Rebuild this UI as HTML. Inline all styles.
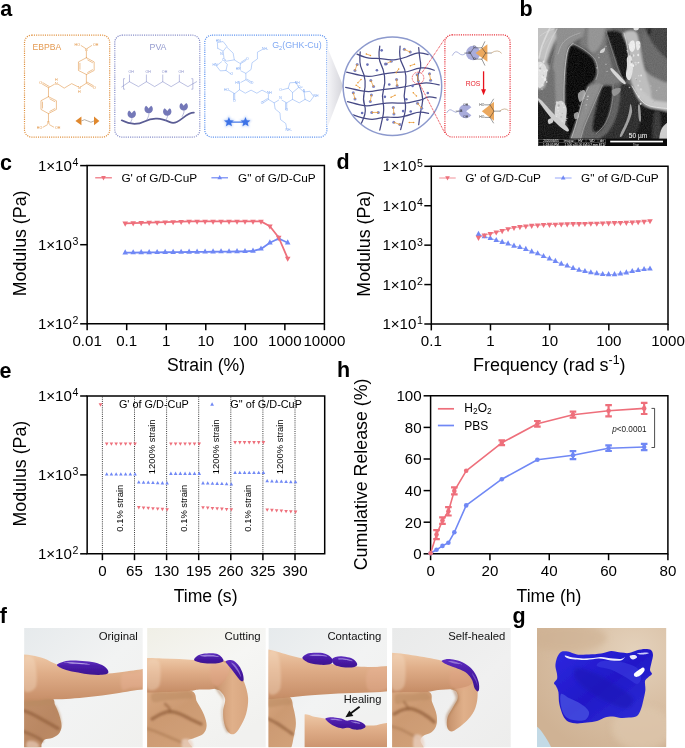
<!DOCTYPE html>
<html><head><meta charset="utf-8"><title>Figure</title>
<style>html,body{margin:0;padding:0;background:#fff}svg{display:block}text{font-family:"Liberation Sans", sans-serif}</style>
</head><body>
<svg width="685" height="748" viewBox="0 0 685 748">
<defs><linearGradient id="fun" x1="0" x2="1"><stop offset="0" stop-color="#f6f6f9"/><stop offset="1" stop-color="#d4d4da"/></linearGradient><clipPath id="cc"><circle cx="392.4" cy="86.2" r="48.6"/></clipPath><filter id="b03"><feGaussianBlur stdDeviation="0.35"/></filter><filter id="glow"><feGaussianBlur stdDeviation="0.9"/></filter><filter id="bl1" x="-10%" y="-10%" width="120%" height="120%"><feGaussianBlur stdDeviation="0.7"/></filter><filter id="bl2" x="-20%" y="-20%" width="140%" height="140%"><feGaussianBlur stdDeviation="1.6"/></filter><filter id="bl3" x="-30%" y="-30%" width="160%" height="160%"><feGaussianBlur stdDeviation="3"/></filter><filter id="bl05" x="-10%" y="-10%" width="120%" height="120%"><feGaussianBlur stdDeviation="0.4"/></filter><linearGradient id="skinH" x1="0" y1="0" x2="0" y2="1"><stop offset="0" stop-color="#EEC8A6"/><stop offset="0.4" stop-color="#DFAD88"/><stop offset="1" stop-color="#C58C66"/></linearGradient><linearGradient id="skinF" x1="0" y1="0" x2="1" y2="1"><stop offset="0" stop-color="#C4926B"/><stop offset="0.6" stop-color="#B98763"/><stop offset="1" stop-color="#C08E68"/></linearGradient><linearGradient id="skinF2" x1="0" y1="0" x2="0.6" y2="1"><stop offset="0" stop-color="#DCAC86"/><stop offset="0.5" stop-color="#CC9A72"/><stop offset="1" stop-color="#D2A27A"/></linearGradient><linearGradient id="skinV" x1="0" y1="0" x2="1" y2="0"><stop offset="0" stop-color="#C4906A"/><stop offset="0.55" stop-color="#E0B08A"/><stop offset="1" stop-color="#D8A680"/></linearGradient><linearGradient id="bgA" x1="0" y1="0" x2="1" y2="1"><stop offset="0" stop-color="#E6EAEC"/><stop offset="0.5" stop-color="#F2F3F3"/><stop offset="1" stop-color="#F0F0EE"/></linearGradient><linearGradient id="bgB" x1="0" y1="0" x2="0.6" y2="1"><stop offset="0" stop-color="#F0EFE6"/><stop offset="0.5" stop-color="#F6F6F4"/><stop offset="1" stop-color="#F1F1EF"/></linearGradient><linearGradient id="bgD" x1="0" y1="0" x2="1" y2="1"><stop offset="0" stop-color="#E9EAEA"/><stop offset="0.6" stop-color="#F0F0F0"/><stop offset="1" stop-color="#EDEDEC"/></linearGradient><linearGradient id="gel" x1="0" y1="0" x2="0" y2="1"><stop offset="0" stop-color="#6030C0"/><stop offset="0.4" stop-color="#4A1CA8"/><stop offset="1" stop-color="#3C1290"/></linearGradient><clipPath id="pc0"><rect x="24.1" y="628" width="118.6" height="119.3"/></clipPath><clipPath id="pc1"><rect x="147.1" y="628" width="118.6" height="119.3"/></clipPath><clipPath id="pc2"><rect x="268.4" y="628" width="118.6" height="119.3"/></clipPath><clipPath id="pc3"><rect x="392.1" y="628" width="118.6" height="119.3"/></clipPath><clipPath id="pcg"><rect x="537" y="628" width="129.2" height="119"/></clipPath><clipPath id="pcb"><rect x="538" y="28" width="129" height="118"/></clipPath><filter id="bl12" x="-10%" y="-10%" width="120%" height="120%"><feGaussianBlur stdDeviation="1.15"/></filter><filter id="grain" x="0" y="0" width="100%" height="100%"><feTurbulence type="fractalNoise" baseFrequency="0.9" numOctaves="2" seed="3"/><feColorMatrix type="matrix" values="0 0 0 0 0.5  0 0 0 0 0.5  0 0 0 0 0.5  1.6 0 0 0 -0.3"/></filter><clipPath id="pci"><rect x="304.6" y="714.2" width="82.4" height="33.1"/></clipPath><radialGradient id="gskin" cx="0.75" cy="0.2" r="0.9"><stop offset="0" stop-color="#E4D2BC"/><stop offset="0.5" stop-color="#D9C0A5"/><stop offset="1" stop-color="#CFB294"/></radialGradient><linearGradient id="ggel" x1="0" y1="0" x2="1" y2="1"><stop offset="0" stop-color="#2E28E0"/><stop offset="0.5" stop-color="#2018C8"/><stop offset="1" stop-color="#3030D8"/></linearGradient></defs>
<rect width="685" height="748" fill="#fff"/>
<text x="0.3" y="16.4" font-size="21.5" text-anchor="start" fill="#000" font-weight="bold">a</text><text x="519.6" y="16.3" font-size="21.5" text-anchor="start" fill="#000" font-weight="bold">b</text><text x="-0.1" y="170" font-size="21.5" text-anchor="start" fill="#000" font-weight="bold">c</text><text x="336.6" y="168.8" font-size="21.5" text-anchor="start" fill="#000" font-weight="bold">d</text><text x="-0.4" y="377.9" font-size="21.5" text-anchor="start" fill="#000" font-weight="bold">e</text><text x="337" y="377.3" font-size="21.5" text-anchor="start" fill="#000" font-weight="bold">h</text><text x="-0.2" y="623.1" font-size="21.5" text-anchor="start" fill="#000" font-weight="bold">f</text><text x="512.6" y="622.6" font-size="21.5" text-anchor="start" fill="#000" font-weight="bold">g</text><path d="M87.15 165.6H324.4V323.8H87.15Z" fill="none" stroke="#000" stroke-width="1.5"/><line x1="80.15" y1="165.6" x2="87.15" y2="165.6" stroke="#000" stroke-width="1.5"/><text x="78.4" y="170.6" font-size="15.1" text-anchor="end">1×10<tspan font-size="10.6" dy="-4.6" dx="0.6">4</tspan></text><line x1="80.15" y1="244.7" x2="87.15" y2="244.7" stroke="#000" stroke-width="1.5"/><text x="78.4" y="249.7" font-size="15.1" text-anchor="end">1×10<tspan font-size="10.6" dy="-4.6" dx="0.6">3</tspan></text><line x1="80.15" y1="323.8" x2="87.15" y2="323.8" stroke="#000" stroke-width="1.5"/><text x="78.4" y="328.8" font-size="15.1" text-anchor="end">1×10<tspan font-size="10.6" dy="-4.6" dx="0.6">2</tspan></text><line x1="87.15" y1="323.8" x2="87.15" y2="330.2" stroke="#000" stroke-width="1.5"/><text x="87.15" y="345.9" font-size="15.1" text-anchor="middle" fill="#000">0.01</text><line x1="126.69" y1="323.8" x2="126.69" y2="330.2" stroke="#000" stroke-width="1.5"/><text x="126.69" y="345.9" font-size="15.1" text-anchor="middle" fill="#000">0.1</text><line x1="166.23" y1="323.8" x2="166.23" y2="330.2" stroke="#000" stroke-width="1.5"/><text x="166.23" y="345.9" font-size="15.1" text-anchor="middle" fill="#000">1</text><line x1="205.78" y1="323.8" x2="205.78" y2="330.2" stroke="#000" stroke-width="1.5"/><text x="205.78" y="345.9" font-size="15.1" text-anchor="middle" fill="#000">10</text><line x1="245.32" y1="323.8" x2="245.32" y2="330.2" stroke="#000" stroke-width="1.5"/><text x="245.32" y="345.9" font-size="15.1" text-anchor="middle" fill="#000">100</text><line x1="284.86" y1="323.8" x2="284.86" y2="330.2" stroke="#000" stroke-width="1.5"/><text x="284.86" y="345.9" font-size="15.1" text-anchor="middle" fill="#000">1000</text><line x1="324.4" y1="323.8" x2="324.4" y2="330.2" stroke="#000" stroke-width="1.5"/><text x="324.4" y="345.9" font-size="15.1" text-anchor="middle" fill="#000">10000</text><text x="206" y="371.3" font-size="17.6" text-anchor="middle" fill="#000">Strain (%)</text><text transform="translate(26.3,243.4) rotate(-90)" font-size="17.8" text-anchor="middle" fill="#000">Modulus (Pa)</text><line x1="95.2" y1="177.8" x2="111.9" y2="177.8" stroke="#EE6F7B" stroke-width="1.2"/><polygon points="103.5,180.4 101.16,176.11 105.84,176.11" fill="#EE6F7B"/><text x="121.4" y="181.6" font-size="11.8" text-anchor="start" fill="#000">G' of G/D-CuP</text><line x1="211.4" y1="177.8" x2="228" y2="177.8" stroke="#7088F5" stroke-width="1.2"/><polygon points="219.7,175 217.36,179.29 222.04,179.29" fill="#7088F5"/><text x="238" y="181.6" font-size="11.8" text-anchor="start" fill="#000">G" of G/D-CuP</text><polyline points="125.2,252.7 133.19,252.61 141.18,252.52 149.16,252.44 157.15,252.35 165.14,252.26 173.13,252.18 181.12,252.09 189.11,252 197.09,251.91 205.08,251.82 213.07,251.74 221.06,251.65 229.05,251.56 237.04,251.48 245.02,251.39 253.01,251 261,248.9 269.9,242.7 278.7,238.5 287.7,242.7" fill="none" stroke="#7088F5" stroke-width="1.8" stroke-linejoin="round" stroke-linecap="round"/><polygon points="125.2,249.3 122.41,254.41 127.99,254.41" fill="#7088F5"/><polygon points="133.19,249.21 130.4,254.33 135.98,254.33" fill="#7088F5"/><polygon points="141.18,249.12 138.39,254.24 143.97,254.24" fill="#7088F5"/><polygon points="149.16,249.04 146.37,254.15 151.95,254.15" fill="#7088F5"/><polygon points="157.15,248.95 154.36,254.06 159.94,254.06" fill="#7088F5"/><polygon points="165.14,248.86 162.35,253.98 167.93,253.98" fill="#7088F5"/><polygon points="173.13,248.78 170.34,253.89 175.92,253.89" fill="#7088F5"/><polygon points="181.12,248.69 178.33,253.8 183.91,253.8" fill="#7088F5"/><polygon points="189.11,248.6 186.32,253.71 191.9,253.71" fill="#7088F5"/><polygon points="197.09,248.51 194.3,253.63 199.88,253.63" fill="#7088F5"/><polygon points="205.08,248.42 202.29,253.54 207.87,253.54" fill="#7088F5"/><polygon points="213.07,248.34 210.28,253.45 215.86,253.45" fill="#7088F5"/><polygon points="221.06,248.25 218.27,253.36 223.85,253.36" fill="#7088F5"/><polygon points="229.05,248.16 226.26,253.28 231.84,253.28" fill="#7088F5"/><polygon points="237.04,248.08 234.25,253.19 239.83,253.19" fill="#7088F5"/><polygon points="245.02,247.99 242.23,253.1 247.81,253.1" fill="#7088F5"/><polygon points="253.01,247.6 250.22,252.71 255.8,252.71" fill="#7088F5"/><polygon points="261,245.5 258.21,250.61 263.79,250.61" fill="#7088F5"/><polygon points="269.9,239.3 267.11,244.41 272.69,244.41" fill="#7088F5"/><polygon points="278.7,235.1 275.91,240.21 281.49,240.21" fill="#7088F5"/><polygon points="287.7,239.3 284.91,244.41 290.49,244.41" fill="#7088F5"/><polyline points="125.2,223.3 133.19,223.06 141.18,222.83 149.16,222.59 157.15,222.35 165.14,222.11 173.13,221.88 181.12,221.64 189.11,221.4 197.09,221.4 205.08,221.4 213.07,221.4 221.06,221.4 229.05,221.4 237.04,221.4 245.02,221.4 253.01,221.4 261,221.4 269.9,226.2 278.7,237.5 287.7,258.4" fill="none" stroke="#EE6F7B" stroke-width="1.8" stroke-linejoin="round" stroke-linecap="round"/><polygon points="125.2,226.7 122.41,221.59 127.99,221.59" fill="#EE6F7B"/><polygon points="133.19,226.46 130.4,221.35 135.98,221.35" fill="#EE6F7B"/><polygon points="141.18,226.23 138.39,221.11 143.97,221.11" fill="#EE6F7B"/><polygon points="149.16,225.99 146.37,220.87 151.95,220.87" fill="#EE6F7B"/><polygon points="157.15,225.75 154.36,220.64 159.94,220.64" fill="#EE6F7B"/><polygon points="165.14,225.51 162.35,220.4 167.93,220.4" fill="#EE6F7B"/><polygon points="173.13,225.28 170.34,220.16 175.92,220.16" fill="#EE6F7B"/><polygon points="181.12,225.04 178.33,219.92 183.91,219.92" fill="#EE6F7B"/><polygon points="189.11,224.8 186.32,219.69 191.9,219.69" fill="#EE6F7B"/><polygon points="197.09,224.8 194.3,219.69 199.88,219.69" fill="#EE6F7B"/><polygon points="205.08,224.8 202.29,219.69 207.87,219.69" fill="#EE6F7B"/><polygon points="213.07,224.8 210.28,219.69 215.86,219.69" fill="#EE6F7B"/><polygon points="221.06,224.8 218.27,219.69 223.85,219.69" fill="#EE6F7B"/><polygon points="229.05,224.8 226.26,219.69 231.84,219.69" fill="#EE6F7B"/><polygon points="237.04,224.8 234.25,219.69 239.83,219.69" fill="#EE6F7B"/><polygon points="245.02,224.8 242.23,219.69 247.81,219.69" fill="#EE6F7B"/><polygon points="253.01,224.8 250.22,219.69 255.8,219.69" fill="#EE6F7B"/><polygon points="261,224.8 258.21,219.69 263.79,219.69" fill="#EE6F7B"/><polygon points="269.9,229.6 267.11,224.49 272.69,224.49" fill="#EE6F7B"/><polygon points="278.7,240.9 275.91,235.79 281.49,235.79" fill="#EE6F7B"/><polygon points="287.7,261.8 284.91,256.69 290.49,256.69" fill="#EE6F7B"/><path d="M431.3 166.3H668.0V324.0H431.3Z" fill="none" stroke="#000" stroke-width="1.5"/><line x1="424.3" y1="166.3" x2="431.3" y2="166.3" stroke="#000" stroke-width="1.5"/><text x="422.9" y="171.3" font-size="15.1" text-anchor="end">1×10<tspan font-size="10.6" dy="-4.6" dx="0.6">5</tspan></text><line x1="424.3" y1="205.73" x2="431.3" y2="205.73" stroke="#000" stroke-width="1.5"/><text x="422.9" y="210.73" font-size="15.1" text-anchor="end">1×10<tspan font-size="10.6" dy="-4.6" dx="0.6">4</tspan></text><line x1="424.3" y1="245.15" x2="431.3" y2="245.15" stroke="#000" stroke-width="1.5"/><text x="422.9" y="250.15" font-size="15.1" text-anchor="end">1×10<tspan font-size="10.6" dy="-4.6" dx="0.6">3</tspan></text><line x1="424.3" y1="284.57" x2="431.3" y2="284.57" stroke="#000" stroke-width="1.5"/><text x="422.9" y="289.57" font-size="15.1" text-anchor="end">1×10<tspan font-size="10.6" dy="-4.6" dx="0.6">2</tspan></text><line x1="424.3" y1="324" x2="431.3" y2="324" stroke="#000" stroke-width="1.5"/><text x="422.9" y="329" font-size="15.1" text-anchor="end">1×10<tspan font-size="10.6" dy="-4.6" dx="0.6">1</tspan></text><line x1="431.3" y1="324" x2="431.3" y2="330.4" stroke="#000" stroke-width="1.5"/><text x="431.3" y="345.9" font-size="15.1" text-anchor="middle" fill="#000">0.1</text><line x1="490.48" y1="324" x2="490.48" y2="330.4" stroke="#000" stroke-width="1.5"/><text x="490.48" y="345.9" font-size="15.1" text-anchor="middle" fill="#000">1</text><line x1="549.65" y1="324" x2="549.65" y2="330.4" stroke="#000" stroke-width="1.5"/><text x="549.65" y="345.9" font-size="15.1" text-anchor="middle" fill="#000">10</text><line x1="608.83" y1="324" x2="608.83" y2="330.4" stroke="#000" stroke-width="1.5"/><text x="608.83" y="345.9" font-size="15.1" text-anchor="middle" fill="#000">100</text><line x1="668" y1="324" x2="668" y2="330.4" stroke="#000" stroke-width="1.5"/><text x="668" y="345.9" font-size="15.1" text-anchor="middle" fill="#000">1000</text><text x="549.3" y="370.7" font-size="17.95" text-anchor="middle">Frequency (rad s<tspan font-size="12.4" dy="-6.8">-1</tspan><tspan dy="6.8">)</tspan></text><text transform="translate(370.3,243.8) rotate(-90)" font-size="17.8" text-anchor="middle" fill="#000">Modulus (Pa)</text><line x1="439.2" y1="178" x2="455.7" y2="178" stroke="#F4A3AB" stroke-width="1.2"/><polygon points="447.5,180.6 445.16,176.31 449.84,176.31" fill="#EE6F7B"/><text x="465.2" y="181.8" font-size="11.8" text-anchor="start" fill="#000">G' of G/D-CuP</text><line x1="554.9" y1="178" x2="571.6" y2="178" stroke="#A9B6FA" stroke-width="1.2"/><polygon points="563.2,175.2 560.86,179.49 565.54,179.49" fill="#7088F5"/><text x="581" y="181.8" font-size="11.8" text-anchor="start" fill="#000">G" of G/D-CuP</text><polyline points="478.5,234.2 484.41,236.5 490.33,238.4 496.24,240.3 502.16,242.2 508.07,243.7 513.98,246 519.9,247.3 525.81,249.2 531.72,251.7 537.64,253.6 543.55,256.4 549.47,258.7 555.38,261.2 561.29,264 567.21,265.9 573.12,268.2 579.03,270.1 584.95,271.4 590.86,272.6 596.78,273.5 602.69,274.3 608.6,274.5 614.52,274.5 620.43,273.7 626.34,272.7 632.26,271.4 638.17,270.3 644.09,269.3 650,268.8" fill="none" stroke="#A9B6FA" stroke-width="1.2" stroke-linejoin="round" stroke-linecap="round"/><polygon points="478.5,230.8 475.71,235.91 481.29,235.91" fill="#7088F5"/><polygon points="484.41,233.1 481.62,238.21 487.2,238.21" fill="#7088F5"/><polygon points="490.33,235 487.54,240.11 493.12,240.11" fill="#7088F5"/><polygon points="496.24,236.9 493.45,242.01 499.03,242.01" fill="#7088F5"/><polygon points="502.16,238.8 499.37,243.91 504.95,243.91" fill="#7088F5"/><polygon points="508.07,240.3 505.28,245.41 510.86,245.41" fill="#7088F5"/><polygon points="513.98,242.6 511.19,247.71 516.77,247.71" fill="#7088F5"/><polygon points="519.9,243.9 517.11,249.01 522.69,249.01" fill="#7088F5"/><polygon points="525.81,245.8 523.02,250.91 528.6,250.91" fill="#7088F5"/><polygon points="531.72,248.3 528.93,253.41 534.51,253.41" fill="#7088F5"/><polygon points="537.64,250.2 534.85,255.31 540.43,255.31" fill="#7088F5"/><polygon points="543.55,253 540.76,258.12 546.34,258.12" fill="#7088F5"/><polygon points="549.47,255.3 546.68,260.42 552.26,260.42" fill="#7088F5"/><polygon points="555.38,257.8 552.59,262.92 558.17,262.92" fill="#7088F5"/><polygon points="561.29,260.6 558.5,265.71 564.08,265.71" fill="#7088F5"/><polygon points="567.21,262.5 564.42,267.62 570,267.62" fill="#7088F5"/><polygon points="573.12,264.8 570.33,269.92 575.91,269.92" fill="#7088F5"/><polygon points="579.03,266.7 576.24,271.81 581.82,271.81" fill="#7088F5"/><polygon points="584.95,268 582.16,273.12 587.74,273.12" fill="#7088F5"/><polygon points="590.86,269.2 588.07,274.31 593.65,274.31" fill="#7088F5"/><polygon points="596.78,270.1 593.99,275.21 599.57,275.21" fill="#7088F5"/><polygon points="602.69,270.9 599.9,276.01 605.48,276.01" fill="#7088F5"/><polygon points="608.6,271.1 605.81,276.21 611.39,276.21" fill="#7088F5"/><polygon points="614.52,271.1 611.73,276.21 617.31,276.21" fill="#7088F5"/><polygon points="620.43,270.3 617.64,275.42 623.22,275.42" fill="#7088F5"/><polygon points="626.34,269.3 623.55,274.42 629.13,274.42" fill="#7088F5"/><polygon points="632.26,268 629.47,273.12 635.05,273.12" fill="#7088F5"/><polygon points="638.17,266.9 635.38,272.01 640.96,272.01" fill="#7088F5"/><polygon points="644.09,265.9 641.3,271.01 646.88,271.01" fill="#7088F5"/><polygon points="650,265.4 647.21,270.51 652.79,270.51" fill="#7088F5"/><polyline points="478.5,237.5 484.41,235.2 490.33,233.7 496.24,232.1 502.16,230.8 508.07,228.9 513.98,227.6 519.9,226.8 525.81,226.1 531.72,225.5 537.64,225.1 543.55,224.7 549.47,224.5 555.38,224.4 561.29,224.2 567.21,224 573.12,223.8 579.03,223.8 584.95,223.6 590.86,223.4 596.78,223.4 602.69,223.2 608.6,223 614.52,222.8 620.43,222.6 626.34,222.5 632.26,222.3 638.17,221.9 644.09,221.5 650,220.9" fill="none" stroke="#F4A3AB" stroke-width="1.2" stroke-linejoin="round" stroke-linecap="round"/><polygon points="478.5,240.9 475.71,235.79 481.29,235.79" fill="#EE6F7B"/><polygon points="484.41,238.6 481.62,233.49 487.2,233.49" fill="#EE6F7B"/><polygon points="490.33,237.1 487.54,231.99 493.12,231.99" fill="#EE6F7B"/><polygon points="496.24,235.5 493.45,230.39 499.03,230.39" fill="#EE6F7B"/><polygon points="502.16,234.2 499.37,229.09 504.95,229.09" fill="#EE6F7B"/><polygon points="508.07,232.3 505.28,227.19 510.86,227.19" fill="#EE6F7B"/><polygon points="513.98,231 511.19,225.89 516.77,225.89" fill="#EE6F7B"/><polygon points="519.9,230.2 517.11,225.09 522.69,225.09" fill="#EE6F7B"/><polygon points="525.81,229.5 523.02,224.39 528.6,224.39" fill="#EE6F7B"/><polygon points="531.72,228.9 528.93,223.79 534.51,223.79" fill="#EE6F7B"/><polygon points="537.64,228.5 534.85,223.39 540.43,223.39" fill="#EE6F7B"/><polygon points="543.55,228.1 540.76,222.99 546.34,222.99" fill="#EE6F7B"/><polygon points="549.47,227.9 546.68,222.79 552.26,222.79" fill="#EE6F7B"/><polygon points="555.38,227.8 552.59,222.69 558.17,222.69" fill="#EE6F7B"/><polygon points="561.29,227.6 558.5,222.49 564.08,222.49" fill="#EE6F7B"/><polygon points="567.21,227.4 564.42,222.29 570,222.29" fill="#EE6F7B"/><polygon points="573.12,227.2 570.33,222.09 575.91,222.09" fill="#EE6F7B"/><polygon points="579.03,227.2 576.24,222.09 581.82,222.09" fill="#EE6F7B"/><polygon points="584.95,227 582.16,221.89 587.74,221.89" fill="#EE6F7B"/><polygon points="590.86,226.8 588.07,221.69 593.65,221.69" fill="#EE6F7B"/><polygon points="596.78,226.8 593.99,221.69 599.57,221.69" fill="#EE6F7B"/><polygon points="602.69,226.6 599.9,221.49 605.48,221.49" fill="#EE6F7B"/><polygon points="608.6,226.4 605.81,221.29 611.39,221.29" fill="#EE6F7B"/><polygon points="614.52,226.2 611.73,221.09 617.31,221.09" fill="#EE6F7B"/><polygon points="620.43,226 617.64,220.89 623.22,220.89" fill="#EE6F7B"/><polygon points="626.34,225.9 623.55,220.79 629.13,220.79" fill="#EE6F7B"/><polygon points="632.26,225.7 629.47,220.59 635.05,220.59" fill="#EE6F7B"/><polygon points="638.17,225.3 635.38,220.19 640.96,220.19" fill="#EE6F7B"/><polygon points="644.09,224.9 641.3,219.79 646.88,219.79" fill="#EE6F7B"/><polygon points="650,224.3 647.21,219.19 652.79,219.19" fill="#EE6F7B"/><path d="M87.15 396.0H324.7V553.8H87.15Z" fill="none" stroke="#000" stroke-width="1.5"/><line x1="80.15" y1="396" x2="87.15" y2="396" stroke="#000" stroke-width="1.5"/><text x="78.4" y="401" font-size="15.1" text-anchor="end">1×10<tspan font-size="10.6" dy="-4.6" dx="0.6">4</tspan></text><line x1="80.15" y1="474.9" x2="87.15" y2="474.9" stroke="#000" stroke-width="1.5"/><text x="78.4" y="479.9" font-size="15.1" text-anchor="end">1×10<tspan font-size="10.6" dy="-4.6" dx="0.6">3</tspan></text><line x1="80.15" y1="553.8" x2="87.15" y2="553.8" stroke="#000" stroke-width="1.5"/><text x="78.4" y="558.8" font-size="15.1" text-anchor="end">1×10<tspan font-size="10.6" dy="-4.6" dx="0.6">2</tspan></text><line x1="102.4" y1="553.8" x2="102.4" y2="560.2" stroke="#000" stroke-width="1.5"/><text x="102.4" y="576.3" font-size="15.1" text-anchor="middle" fill="#000">0</text><line x1="102.4" y1="396.6" x2="102.4" y2="553.2" stroke="#222" stroke-width="0.9" stroke-dasharray="1 1.15"/><line x1="134.5" y1="553.8" x2="134.5" y2="560.2" stroke="#000" stroke-width="1.5"/><text x="134.5" y="576.3" font-size="15.1" text-anchor="middle" fill="#000">65</text><line x1="134.5" y1="396.6" x2="134.5" y2="553.2" stroke="#222" stroke-width="0.9" stroke-dasharray="1 1.15"/><line x1="166.6" y1="553.8" x2="166.6" y2="560.2" stroke="#000" stroke-width="1.5"/><text x="166.6" y="576.3" font-size="15.1" text-anchor="middle" fill="#000">130</text><line x1="166.6" y1="396.6" x2="166.6" y2="553.2" stroke="#222" stroke-width="0.9" stroke-dasharray="1 1.15"/><line x1="198.7" y1="553.8" x2="198.7" y2="560.2" stroke="#000" stroke-width="1.5"/><text x="198.7" y="576.3" font-size="15.1" text-anchor="middle" fill="#000">195</text><line x1="198.7" y1="396.6" x2="198.7" y2="553.2" stroke="#222" stroke-width="0.9" stroke-dasharray="1 1.15"/><line x1="230.8" y1="553.8" x2="230.8" y2="560.2" stroke="#000" stroke-width="1.5"/><text x="230.8" y="576.3" font-size="15.1" text-anchor="middle" fill="#000">260</text><line x1="230.8" y1="396.6" x2="230.8" y2="553.2" stroke="#222" stroke-width="0.9" stroke-dasharray="1 1.15"/><line x1="262.9" y1="553.8" x2="262.9" y2="560.2" stroke="#000" stroke-width="1.5"/><text x="262.9" y="576.3" font-size="15.1" text-anchor="middle" fill="#000">325</text><line x1="262.9" y1="396.6" x2="262.9" y2="553.2" stroke="#222" stroke-width="0.9" stroke-dasharray="1 1.15"/><line x1="295" y1="553.8" x2="295" y2="560.2" stroke="#000" stroke-width="1.5"/><text x="295" y="576.3" font-size="15.1" text-anchor="middle" fill="#000">390</text><line x1="295" y1="396.6" x2="295" y2="553.2" stroke="#222" stroke-width="0.9" stroke-dasharray="1 1.15"/><text x="205.6" y="601.6" font-size="17.6" text-anchor="middle" fill="#000">Time (s)</text><text transform="translate(26.3,473.6) rotate(-90)" font-size="17.8" text-anchor="middle" fill="#000">Modulus (Pa)</text><polygon points="100.5,406.7 98.61,403.24 102.39,403.24" fill="#EE6F7B"/><text x="118.9" y="408.3" font-size="10.9" text-anchor="start" fill="#000">G' of G/D-CuP</text><polygon points="212.1,402.2 210.21,405.67 213.99,405.67" fill="#7088F5"/><text x="230.3" y="408.3" font-size="10.9" text-anchor="start" fill="#000">G" of G/D-CuP</text><polygon points="106.7,445.8 104.9,442.5 108.5,442.5" fill="#EE6F7B"/><polygon points="106.7,472.2 104.9,475.5 108.5,475.5" fill="#7088F5"/><polygon points="111.42,445.8 109.62,442.5 113.22,442.5" fill="#EE6F7B"/><polygon points="111.42,472.2 109.62,475.5 113.22,475.5" fill="#7088F5"/><polygon points="116.14,445.8 114.34,442.5 117.94,442.5" fill="#EE6F7B"/><polygon points="116.14,472.2 114.34,475.5 117.94,475.5" fill="#7088F5"/><polygon points="120.86,445.8 119.06,442.5 122.66,442.5" fill="#EE6F7B"/><polygon points="120.86,472.2 119.06,475.5 122.66,475.5" fill="#7088F5"/><polygon points="125.58,445.8 123.78,442.5 127.38,442.5" fill="#EE6F7B"/><polygon points="125.58,472.2 123.78,475.5 127.38,475.5" fill="#7088F5"/><polygon points="130.3,445.8 128.5,442.5 132.1,442.5" fill="#EE6F7B"/><polygon points="130.3,472.2 128.5,475.5 132.1,475.5" fill="#7088F5"/><polygon points="135.02,445.8 133.22,442.5 136.82,442.5" fill="#EE6F7B"/><polygon points="135.02,472.2 133.22,475.5 136.82,475.5" fill="#7088F5"/><polygon points="138.8,509.4 137,506.1 140.6,506.1" fill="#EE6F7B"/><polygon points="138.8,480.2 137,483.5 140.6,483.5" fill="#7088F5"/><polygon points="143.52,509.75 141.72,506.45 145.32,506.45" fill="#EE6F7B"/><polygon points="143.52,480.38 141.72,483.68 145.32,483.68" fill="#7088F5"/><polygon points="148.24,510.1 146.44,506.8 150.04,506.8" fill="#EE6F7B"/><polygon points="148.24,480.55 146.44,483.85 150.04,483.85" fill="#7088F5"/><polygon points="152.96,510.45 151.16,507.15 154.76,507.15" fill="#EE6F7B"/><polygon points="152.96,480.72 151.16,484.02 154.76,484.02" fill="#7088F5"/><polygon points="157.68,510.8 155.88,507.5 159.48,507.5" fill="#EE6F7B"/><polygon points="157.68,480.9 155.88,484.2 159.48,484.2" fill="#7088F5"/><polygon points="162.4,511.15 160.6,507.85 164.2,507.85" fill="#EE6F7B"/><polygon points="162.4,481.07 160.6,484.38 164.2,484.38" fill="#7088F5"/><polygon points="167.12,511.5 165.32,508.2 168.92,508.2" fill="#EE6F7B"/><polygon points="167.12,481.25 165.32,484.55 168.92,484.55" fill="#7088F5"/><polygon points="170.9,445.8 169.1,442.5 172.7,442.5" fill="#EE6F7B"/><polygon points="170.9,471.6 169.1,474.9 172.7,474.9" fill="#7088F5"/><polygon points="175.62,445.8 173.82,442.5 177.42,442.5" fill="#EE6F7B"/><polygon points="175.62,471.6 173.82,474.9 177.42,474.9" fill="#7088F5"/><polygon points="180.34,445.8 178.54,442.5 182.14,442.5" fill="#EE6F7B"/><polygon points="180.34,471.6 178.54,474.9 182.14,474.9" fill="#7088F5"/><polygon points="185.06,445.8 183.26,442.5 186.86,442.5" fill="#EE6F7B"/><polygon points="185.06,471.6 183.26,474.9 186.86,474.9" fill="#7088F5"/><polygon points="189.78,445.8 187.98,442.5 191.58,442.5" fill="#EE6F7B"/><polygon points="189.78,471.6 187.98,474.9 191.58,474.9" fill="#7088F5"/><polygon points="194.5,445.8 192.7,442.5 196.3,442.5" fill="#EE6F7B"/><polygon points="194.5,471.6 192.7,474.9 196.3,474.9" fill="#7088F5"/><polygon points="199.22,445.8 197.42,442.5 201.02,442.5" fill="#EE6F7B"/><polygon points="199.22,471.6 197.42,474.9 201.02,474.9" fill="#7088F5"/><polygon points="203,509.5 201.2,506.2 204.8,506.2" fill="#EE6F7B"/><polygon points="203,481.1 201.2,484.4 204.8,484.4" fill="#7088F5"/><polygon points="207.72,509.85 205.92,506.55 209.52,506.55" fill="#EE6F7B"/><polygon points="207.72,481.28 205.92,484.58 209.52,484.58" fill="#7088F5"/><polygon points="212.44,510.2 210.64,506.9 214.24,506.9" fill="#EE6F7B"/><polygon points="212.44,481.45 210.64,484.75 214.24,484.75" fill="#7088F5"/><polygon points="217.16,510.55 215.36,507.25 218.96,507.25" fill="#EE6F7B"/><polygon points="217.16,481.62 215.36,484.93 218.96,484.93" fill="#7088F5"/><polygon points="221.88,510.9 220.08,507.6 223.68,507.6" fill="#EE6F7B"/><polygon points="221.88,481.8 220.08,485.1 223.68,485.1" fill="#7088F5"/><polygon points="226.6,511.25 224.8,507.95 228.4,507.95" fill="#EE6F7B"/><polygon points="226.6,481.98 224.8,485.28 228.4,485.28" fill="#7088F5"/><polygon points="231.32,511.6 229.52,508.3 233.12,508.3" fill="#EE6F7B"/><polygon points="231.32,482.15 229.52,485.45 233.12,485.45" fill="#7088F5"/><polygon points="235.1,444.4 233.3,441.1 236.9,441.1" fill="#EE6F7B"/><polygon points="235.1,470.7 233.3,474 236.9,474" fill="#7088F5"/><polygon points="239.82,444.4 238.02,441.1 241.62,441.1" fill="#EE6F7B"/><polygon points="239.82,470.7 238.02,474 241.62,474" fill="#7088F5"/><polygon points="244.54,444.4 242.74,441.1 246.34,441.1" fill="#EE6F7B"/><polygon points="244.54,470.7 242.74,474 246.34,474" fill="#7088F5"/><polygon points="249.26,444.4 247.46,441.1 251.06,441.1" fill="#EE6F7B"/><polygon points="249.26,470.7 247.46,474 251.06,474" fill="#7088F5"/><polygon points="253.98,444.4 252.18,441.1 255.78,441.1" fill="#EE6F7B"/><polygon points="253.98,470.7 252.18,474 255.78,474" fill="#7088F5"/><polygon points="258.7,444.4 256.9,441.1 260.5,441.1" fill="#EE6F7B"/><polygon points="258.7,470.7 256.9,474 260.5,474" fill="#7088F5"/><polygon points="263.42,444.4 261.62,441.1 265.22,441.1" fill="#EE6F7B"/><polygon points="263.42,470.7 261.62,474 265.22,474" fill="#7088F5"/><polygon points="267.2,511.8 265.4,508.5 269,508.5" fill="#EE6F7B"/><polygon points="267.2,479 265.4,482.3 269,482.3" fill="#7088F5"/><polygon points="271.92,512.15 270.12,508.85 273.72,508.85" fill="#EE6F7B"/><polygon points="271.92,479.18 270.12,482.48 273.72,482.48" fill="#7088F5"/><polygon points="276.64,512.5 274.84,509.2 278.44,509.2" fill="#EE6F7B"/><polygon points="276.64,479.35 274.84,482.65 278.44,482.65" fill="#7088F5"/><polygon points="281.36,512.85 279.56,509.55 283.16,509.55" fill="#EE6F7B"/><polygon points="281.36,479.52 279.56,482.82 283.16,482.82" fill="#7088F5"/><polygon points="286.08,513.2 284.28,509.9 287.88,509.9" fill="#EE6F7B"/><polygon points="286.08,479.7 284.28,483 287.88,483" fill="#7088F5"/><polygon points="290.8,513.55 289,510.25 292.6,510.25" fill="#EE6F7B"/><polygon points="290.8,479.88 289,483.18 292.6,483.18" fill="#7088F5"/><polygon points="295.52,513.9 293.72,510.6 297.32,510.6" fill="#EE6F7B"/><polygon points="295.52,480.05 293.72,483.35 297.32,483.35" fill="#7088F5"/><text transform="translate(122.65,508.2) rotate(-90)" font-size="9.4" text-anchor="middle" fill="#000">0.1% strain</text><text transform="translate(154.75,446.8) rotate(-90)" font-size="9.4" text-anchor="middle" fill="#000">1200% strain</text><text transform="translate(186.85,508.2) rotate(-90)" font-size="9.4" text-anchor="middle" fill="#000">0.1% strain</text><text transform="translate(218.95,446.8) rotate(-90)" font-size="9.4" text-anchor="middle" fill="#000">1200% strain</text><text transform="translate(251.05,508.2) rotate(-90)" font-size="9.4" text-anchor="middle" fill="#000">0.1% strain</text><text transform="translate(283.15,446.8) rotate(-90)" font-size="9.4" text-anchor="middle" fill="#000">1200% strain</text><path d="M430.6 395.8H667.9V553.8H430.6Z" fill="none" stroke="#000" stroke-width="1.5"/><line x1="423.6" y1="395.8" x2="430.6" y2="395.8" stroke="#000" stroke-width="1.5"/><text x="421.6" y="401.1" font-size="15.1" text-anchor="end" fill="#000">100</text><line x1="423.6" y1="427.4" x2="430.6" y2="427.4" stroke="#000" stroke-width="1.5"/><text x="421.6" y="432.7" font-size="15.1" text-anchor="end" fill="#000">80</text><line x1="423.6" y1="459" x2="430.6" y2="459" stroke="#000" stroke-width="1.5"/><text x="421.6" y="464.3" font-size="15.1" text-anchor="end" fill="#000">60</text><line x1="423.6" y1="490.6" x2="430.6" y2="490.6" stroke="#000" stroke-width="1.5"/><text x="421.6" y="495.9" font-size="15.1" text-anchor="end" fill="#000">40</text><line x1="423.6" y1="522.2" x2="430.6" y2="522.2" stroke="#000" stroke-width="1.5"/><text x="421.6" y="527.5" font-size="15.1" text-anchor="end" fill="#000">20</text><line x1="423.6" y1="553.8" x2="430.6" y2="553.8" stroke="#000" stroke-width="1.5"/><text x="421.6" y="559.1" font-size="15.1" text-anchor="end" fill="#000">0</text><line x1="430.6" y1="553.8" x2="430.6" y2="560.2" stroke="#000" stroke-width="1.5"/><text x="430.6" y="576.3" font-size="15.1" text-anchor="middle" fill="#000">0</text><line x1="489.93" y1="553.8" x2="489.93" y2="560.2" stroke="#000" stroke-width="1.5"/><text x="489.93" y="576.3" font-size="15.1" text-anchor="middle" fill="#000">20</text><line x1="549.25" y1="553.8" x2="549.25" y2="560.2" stroke="#000" stroke-width="1.5"/><text x="549.25" y="576.3" font-size="15.1" text-anchor="middle" fill="#000">40</text><line x1="608.58" y1="553.8" x2="608.58" y2="560.2" stroke="#000" stroke-width="1.5"/><text x="608.58" y="576.3" font-size="15.1" text-anchor="middle" fill="#000">60</text><line x1="667.9" y1="553.8" x2="667.9" y2="560.2" stroke="#000" stroke-width="1.5"/><text x="667.9" y="576.3" font-size="15.1" text-anchor="middle" fill="#000">80</text><text x="549" y="601.6" font-size="17.6" text-anchor="middle" fill="#000">Time (h)</text><text transform="translate(367.4,474.4) rotate(-90)" font-size="17.8" text-anchor="middle" fill="#000">Cumulative Release (%)</text><line x1="437.9" y1="408.8" x2="454" y2="408.8" stroke="#EE6F7B" stroke-width="1.7"/><text x="464.3" y="411.9" font-size="12">H<tspan font-size="8.4" dy="2.4">2</tspan><tspan dy="-2.4">O</tspan><tspan font-size="8.4" dy="2.4">2</tspan></text><line x1="437.9" y1="425.5" x2="454" y2="425.5" stroke="#7088F5" stroke-width="1.7"/><text x="464.3" y="429.9" font-size="12" text-anchor="start" fill="#000">PBS</text><polyline points="430.6,553.3 436.53,549.8 442.47,545.9 448.4,542.8 454.33,532.3 466.19,505.4 501.79,479.2 537.38,459.8 572.98,455.2 608.58,448.2 644.17,447" fill="none" stroke="#7088F5" stroke-width="1.6" stroke-linejoin="round" stroke-linecap="round"/><circle cx="430.6" cy="553.3" r="2.3" fill="#7088F5"/><circle cx="436.53" cy="549.8" r="2.3" fill="#7088F5"/><circle cx="442.47" cy="545.9" r="2.3" fill="#7088F5"/><circle cx="448.4" cy="542.8" r="2.3" fill="#7088F5"/><circle cx="454.33" cy="532.3" r="2.3" fill="#7088F5"/><circle cx="466.19" cy="505.4" r="2.3" fill="#7088F5"/><circle cx="501.79" cy="479.2" r="2.3" fill="#7088F5"/><circle cx="537.38" cy="459.8" r="2.3" fill="#7088F5"/><circle cx="572.98" cy="455.2" r="2.3" fill="#7088F5"/><path d="M572.98 451.2V459.2M569.68 451.2h6.6M569.68 459.2h6.6" stroke="#7088F5" stroke-width="2.2" fill="none"/><circle cx="608.58" cy="448.2" r="2.3" fill="#7088F5"/><path d="M608.58 445.4V451M605.28 445.4h6.6M605.28 451h6.6" stroke="#7088F5" stroke-width="2.2" fill="none"/><circle cx="644.17" cy="447" r="2.3" fill="#7088F5"/><path d="M644.17 443.8V450.2M640.87 443.8h6.6M640.87 450.2h6.6" stroke="#7088F5" stroke-width="2.2" fill="none"/><polyline points="430.6,553.3 436.53,534.6 442.47,520.6 448.4,511.3 454.33,490.9 466.19,470.8 501.79,442.8 537.38,423.8 572.98,414.7 608.58,410.8 644.17,408.4" fill="none" stroke="#EE6F7B" stroke-width="1.6" stroke-linejoin="round" stroke-linecap="round"/><circle cx="430.6" cy="553.3" r="2.3" fill="#EE6F7B"/><circle cx="436.53" cy="534.6" r="2.3" fill="#EE6F7B"/><path d="M436.53 530.1V539.1M433.23 530.1h6.6M433.23 539.1h6.6" stroke="#EE6F7B" stroke-width="2.2" fill="none"/><circle cx="442.47" cy="520.6" r="2.3" fill="#EE6F7B"/><path d="M442.47 517.4V523.8M439.17 517.4h6.6M439.17 523.8h6.6" stroke="#EE6F7B" stroke-width="2.2" fill="none"/><circle cx="448.4" cy="511.3" r="2.3" fill="#EE6F7B"/><path d="M448.4 507.1V515.5M445.1 507.1h6.6M445.1 515.5h6.6" stroke="#EE6F7B" stroke-width="2.2" fill="none"/><circle cx="454.33" cy="490.9" r="2.3" fill="#EE6F7B"/><path d="M454.33 487.4V494.4M451.03 487.4h6.6M451.03 494.4h6.6" stroke="#EE6F7B" stroke-width="2.2" fill="none"/><circle cx="466.19" cy="470.8" r="2.3" fill="#EE6F7B"/><circle cx="501.79" cy="442.8" r="2.3" fill="#EE6F7B"/><path d="M501.79 440.4V445.2M498.49 440.4h6.6M498.49 445.2h6.6" stroke="#EE6F7B" stroke-width="2.2" fill="none"/><circle cx="537.38" cy="423.8" r="2.3" fill="#EE6F7B"/><path d="M537.38 421V426.6M534.09 421h6.6M534.09 426.6h6.6" stroke="#EE6F7B" stroke-width="2.2" fill="none"/><circle cx="572.98" cy="414.7" r="2.3" fill="#EE6F7B"/><path d="M572.98 411.7V417.7M569.68 411.7h6.6M569.68 417.7h6.6" stroke="#EE6F7B" stroke-width="2.2" fill="none"/><circle cx="608.58" cy="410.8" r="2.3" fill="#EE6F7B"/><path d="M608.58 405.2V416.4M605.28 405.2h6.6M605.28 416.4h6.6" stroke="#EE6F7B" stroke-width="2.2" fill="none"/><circle cx="644.17" cy="408.4" r="2.3" fill="#EE6F7B"/><path d="M644.17 402.8V414M640.87 402.8h6.6M640.87 414h6.6" stroke="#EE6F7B" stroke-width="2.2" fill="none"/><path d="M651.5 408.4H654.6V447.5H651.5" fill="none" stroke="#000" stroke-width="0.7"/><text x="612.2" y="431.8" font-size="8.2" fill="#222"><tspan font-style="italic">p</tspan>&lt;0.0001</text><rect x="24.5" y="35.2" width="85.2" height="101.9" rx="7.2" fill="none" stroke="#E0913F" stroke-width="1.2" stroke-dasharray="1.1 1.1"/><text x="32.6" y="49.9" font-size="8.6" text-anchor="start" fill="#E49A52">EBPBA</text><polyline points="86.38,57.72 94.17,61.91 94.17,70.46 86.38,74.5 78.44,70.46 78.44,61.91 86.38,57.72" fill="none" stroke="#E0913F" stroke-width="0.55" stroke-linejoin="round" stroke-linecap="round"/><polyline points="87.73,59.97 92.52,62.66" fill="none" stroke="#E0913F" stroke-width="0.55" stroke-linejoin="round" stroke-linecap="round"/><polyline points="92.52,69.71 87.73,72.4" fill="none" stroke="#E0913F" stroke-width="0.55" stroke-linejoin="round" stroke-linecap="round"/><polyline points="79.93,63.26 79.93,69.26" fill="none" stroke="#E0913F" stroke-width="0.55" stroke-linejoin="round" stroke-linecap="round"/><polyline points="86.38,57.72 86.38,50.98" fill="none" stroke="#E0913F" stroke-width="0.55" stroke-linejoin="round" stroke-linecap="round"/><polyline points="85.33,48.28 81.13,45.58" fill="none" stroke="#E0913F" stroke-width="0.55" stroke-linejoin="round" stroke-linecap="round"/><polyline points="87.43,48.28 91.62,45.58" fill="none" stroke="#E0913F" stroke-width="0.55" stroke-linejoin="round" stroke-linecap="round"/><polyline points="86.38,74.5 86.38,83.19 92.67,86.94" fill="none" stroke="#E0913F" stroke-width="0.55" stroke-linejoin="round" stroke-linecap="round"/><polyline points="87.13,82.14 93.42,85.74" fill="none" stroke="#E0913F" stroke-width="0.55" stroke-linejoin="round" stroke-linecap="round"/><polyline points="86.38,83.19 80.68,86.94" fill="none" stroke="#E0913F" stroke-width="0.55" stroke-linejoin="round" stroke-linecap="round"/><polyline points="77.69,86.64 71.69,83.64 64.2,88.14 58.21,84.24" fill="none" stroke="#E0913F" stroke-width="0.55" stroke-linejoin="round" stroke-linecap="round"/><polyline points="54.46,84.24 48.47,87.69 42.18,83.94" fill="none" stroke="#E0913F" stroke-width="0.55" stroke-linejoin="round" stroke-linecap="round"/><polyline points="49.22,86.49 42.92,82.74" fill="none" stroke="#E0913F" stroke-width="0.55" stroke-linejoin="round" stroke-linecap="round"/><polyline points="48.47,87.69 48.47,96.68" fill="none" stroke="#E0913F" stroke-width="0.55" stroke-linejoin="round" stroke-linecap="round"/><polyline points="48.47,96.68 56.41,100.72 56.41,109.41 48.47,113.61 40.98,109.41 40.98,100.72 48.47,96.68" fill="none" stroke="#E0913F" stroke-width="0.55" stroke-linejoin="round" stroke-linecap="round"/><polyline points="49.82,98.92 54.76,101.62" fill="none" stroke="#E0913F" stroke-width="0.55" stroke-linejoin="round" stroke-linecap="round"/><polyline points="54.76,108.66 49.82,111.36" fill="none" stroke="#E0913F" stroke-width="0.55" stroke-linejoin="round" stroke-linecap="round"/><polyline points="42.48,102.07 42.48,108.06" fill="none" stroke="#E0913F" stroke-width="0.55" stroke-linejoin="round" stroke-linecap="round"/><polyline points="48.47,113.61 48.47,121.7" fill="none" stroke="#E0913F" stroke-width="0.55" stroke-linejoin="round" stroke-linecap="round"/><polyline points="47.42,124.7 43.22,127.09" fill="none" stroke="#E0913F" stroke-width="0.55" stroke-linejoin="round" stroke-linecap="round"/><polyline points="49.52,124.7 53.71,127.09" fill="none" stroke="#E0913F" stroke-width="0.55" stroke-linejoin="round" stroke-linecap="round"/><text x="86.38" y="50.68" font-size="3.6" text-anchor="middle" fill="#E0913F">B</text><text x="77.24" y="45.58" font-size="3.6" text-anchor="middle" fill="#E0913F">HO</text><text x="95.67" y="45.58" font-size="3.6" text-anchor="middle" fill="#E0913F">OH</text><text x="94.47" y="88.74" font-size="3.6" text-anchor="middle" fill="#E0913F">O</text><text x="79.18" y="88.74" font-size="3.6" text-anchor="middle" fill="#E0913F">N</text><text x="79.18" y="92.63" font-size="3.6" text-anchor="middle" fill="#E0913F">H</text><text x="56.41" y="84.69" font-size="3.6" text-anchor="middle" fill="#E0913F">N</text><text x="56.41" y="80.94" font-size="3.6" text-anchor="middle" fill="#E0913F">H</text><text x="40.68" y="84.24" font-size="3.6" text-anchor="middle" fill="#E0913F">O</text><text x="48.47" y="124.4" font-size="3.6" text-anchor="middle" fill="#E0913F">B</text><text x="39.48" y="128.89" font-size="3.6" text-anchor="middle" fill="#E0913F">HO</text><text x="57.76" y="128.89" font-size="3.6" text-anchor="middle" fill="#E0913F">OH</text><polygon points="75.44,120.95 81.43,116.6 81.43,125.3" fill="#E0882E"/><polygon points="99.41,120.95 94.02,116.6 94.02,125.3" fill="#E0882E"/><path d="M81.43 120.95Q84.43 118.4 87.73 120.95Q91.02 123.5 94.02 120.95" fill="none" stroke="#8a7a6a" stroke-width="0.6"/><rect x="114.8" y="35.2" width="85" height="101.9" rx="7.2" fill="none" stroke="#858CC8" stroke-width="1.2" stroke-dasharray="1.1 1.1"/><text x="158" y="50.2" font-size="8.8" text-anchor="middle" fill="#959CCF">PVA</text><polyline points="121.69,86.94 129.48,81.69 138.47,86.64 146.41,81.69 154.65,86.64 162.74,81.69 171.13,86.64 179.37,81.69 187.91,86.64 196.6,81.69" fill="none" stroke="#858CC8" stroke-width="0.55" stroke-linejoin="round" stroke-linecap="round"/><polyline points="129.48,81.69 129.48,74.95" fill="none" stroke="#858CC8" stroke-width="0.55" stroke-linejoin="round" stroke-linecap="round"/><text x="131.28" y="73.15" font-size="3.6" text-anchor="middle" fill="#858CC8">OH</text><polyline points="146.41,81.69 146.41,74.95" fill="none" stroke="#858CC8" stroke-width="0.55" stroke-linejoin="round" stroke-linecap="round"/><text x="148.21" y="73.15" font-size="3.6" text-anchor="middle" fill="#858CC8">OH</text><polyline points="162.74,81.69 162.74,74.95" fill="none" stroke="#858CC8" stroke-width="0.55" stroke-linejoin="round" stroke-linecap="round"/><text x="164.54" y="73.15" font-size="3.6" text-anchor="middle" fill="#858CC8">OH</text><polyline points="179.37,81.69 179.37,74.95" fill="none" stroke="#858CC8" stroke-width="0.55" stroke-linejoin="round" stroke-linecap="round"/><text x="181.17" y="73.15" font-size="3.6" text-anchor="middle" fill="#858CC8">OH</text><polyline points="124.68,78.7 123.49,78.7 123.49,89.18 124.68,89.18" fill="none" stroke="#858CC8" stroke-width="0.55" stroke-linejoin="round" stroke-linecap="round"/><polyline points="191.66,78.7 192.86,78.7 192.86,89.18 191.66,89.18" fill="none" stroke="#858CC8" stroke-width="0.55" stroke-linejoin="round" stroke-linecap="round"/><path d="M121.69 120.35C127.98 123.65 135.47 125.89 144.46 121.4S160.94 118.4 169.93 122.15S184.92 112.41 193.91 112.71" fill="none" stroke="#5A5C94" stroke-width="1.7" stroke-linecap="round"/><path d="M131.73 116.91Q132.93 118.55 130.23 123.2" fill="none" stroke="#7478B8" stroke-width="0.5"/><path d="M129.14 110.6A4.2 4.2 0 1 0 134.31 110.6Q132.78 111.6 131.73 113.28Q130.68 111.6 129.14 110.6Z" fill="#7478B8"/><path d="M148.66 112.11Q149.86 114.51 146.71 119.9" fill="none" stroke="#7478B8" stroke-width="0.5"/><path d="M146.07 105.8A4.2 4.2 0 1 0 151.24 105.8Q149.71 106.8 148.66 108.48Q147.61 106.8 146.07 105.8Z" fill="#7478B8"/><path d="M167.24 114.66Q168.44 116.31 165.14 120.95" fill="none" stroke="#7478B8" stroke-width="0.5"/><path d="M164.65 108.35A4.2 4.2 0 1 0 169.82 108.35Q168.29 109.35 167.24 111.03Q166.19 109.35 164.65 108.35Z" fill="#7478B8"/><path d="M183.72 109.42Q184.92 111.66 181.92 116.9" fill="none" stroke="#7478B8" stroke-width="0.5"/><path d="M181.13 103.11A4.2 4.2 0 1 0 186.3 103.11Q184.77 104.11 183.72 105.79Q182.67 104.11 181.13 103.11Z" fill="#7478B8"/><rect x="204.8" y="35.2" width="122.1" height="101.9" rx="7.2" fill="none" stroke="#5E93F0" stroke-width="1.2" stroke-dasharray="1.1 1.1"/><text x="272.2" y="48.3" font-size="8.9" fill="#7FA8F3">G<tspan font-size="5.6" dy="1.8">2</tspan><tspan dy="-1.8">(GHK-Cu)</tspan></text><polyline points="217.73,48.31 217.34,42.53 223.13,41.56 226.98,46.38 223.13,51.2 217.73,48.31" fill="none" stroke="#7BA6F3" stroke-width="0.5" stroke-linejoin="round" stroke-linecap="round"/><polyline points="226.98,47.34 233.15,53.13 234.3,59.87 240.47,63.73 245.87,60.45" fill="none" stroke="#7BA6F3" stroke-width="0.5" stroke-linejoin="round" stroke-linecap="round"/><polyline points="240.86,62.38 245.87,59.1" fill="none" stroke="#7BA6F3" stroke-width="0.5" stroke-linejoin="round" stroke-linecap="round"/><polyline points="234.3,59.87 226.02,61.22" fill="none" stroke="#7BA6F3" stroke-width="0.5" stroke-linejoin="round" stroke-linecap="round"/><polyline points="223.13,51.58 224.09,58.91" fill="none" stroke="#7BA6F3" stroke-width="0.5" stroke-linejoin="round" stroke-linecap="round"/><polyline points="224.67,61.8 227.37,64.3 226.02,70.47 220.24,70.86 216.38,65.85 221.58,61.8" fill="none" stroke="#7BA6F3" stroke-width="0.5" stroke-linejoin="round" stroke-linecap="round"/><polyline points="226.02,70.47 230.83,73.94" fill="none" stroke="#7BA6F3" stroke-width="0.5" stroke-linejoin="round" stroke-linecap="round"/><polyline points="240.47,63.73 239.89,68.54" fill="none" stroke="#7BA6F3" stroke-width="0.5" stroke-linejoin="round" stroke-linecap="round"/><polyline points="240.86,70.86 245.87,73.36 245.87,79.72 250.49,83" fill="none" stroke="#7BA6F3" stroke-width="0.5" stroke-linejoin="round" stroke-linecap="round"/><polyline points="247.02,79.14 251.65,82.03" fill="none" stroke="#7BA6F3" stroke-width="0.5" stroke-linejoin="round" stroke-linecap="round"/><polyline points="245.87,73.36 251.07,69.51 252.03,62.76 257.43,58.91 257.43,52.16 262.05,49.66" fill="none" stroke="#7BA6F3" stroke-width="0.5" stroke-linejoin="round" stroke-linecap="round"/><polyline points="245.87,79.72 240.86,82.42" fill="none" stroke="#7BA6F3" stroke-width="0.5" stroke-linejoin="round" stroke-linecap="round"/><polyline points="239.51,84.35 239.51,89.74 234.69,93.6 234.69,99.76" fill="none" stroke="#7BA6F3" stroke-width="0.5" stroke-linejoin="round" stroke-linecap="round"/><polyline points="233.53,93.6 233.53,99.38" fill="none" stroke="#7BA6F3" stroke-width="0.5" stroke-linejoin="round" stroke-linecap="round"/><polyline points="234.69,93.6 229.29,90.51" fill="none" stroke="#7BA6F3" stroke-width="0.5" stroke-linejoin="round" stroke-linecap="round"/><polyline points="239.51,89.74 245.29,93.21 251.07,90.13 256.85,93.21 262.05,90.13 266.49,92.44" fill="none" stroke="#7BA6F3" stroke-width="0.5" stroke-linejoin="round" stroke-linecap="round"/><polyline points="268.41,94.56 268.41,99.38 263.21,102.85" fill="none" stroke="#7BA6F3" stroke-width="0.5" stroke-linejoin="round" stroke-linecap="round"/><polyline points="267.45,98.61 262.44,101.69" fill="none" stroke="#7BA6F3" stroke-width="0.5" stroke-linejoin="round" stroke-linecap="round"/><polyline points="268.41,99.38 274.2,102.85 278.63,100.15" fill="none" stroke="#7BA6F3" stroke-width="0.5" stroke-linejoin="round" stroke-linecap="round"/><polyline points="281.9,100.15 286.72,102.85 286.72,109.4" fill="none" stroke="#7BA6F3" stroke-width="0.5" stroke-linejoin="round" stroke-linecap="round"/><polyline points="285.57,102.85 285.57,109.4" fill="none" stroke="#7BA6F3" stroke-width="0.5" stroke-linejoin="round" stroke-linecap="round"/><polyline points="286.72,102.85 292.5,99.38 299.25,102.85 305.03,99.38" fill="none" stroke="#7BA6F3" stroke-width="0.5" stroke-linejoin="round" stroke-linecap="round"/><polyline points="274.2,102.85 275.16,109.01 279.98,112.87 280.56,119.61 285.76,123.47 286.72,128.67" fill="none" stroke="#7BA6F3" stroke-width="0.5" stroke-linejoin="round" stroke-linecap="round"/><polyline points="292.5,99.38 292.5,92.63 288.26,88.2 282.48,89.74" fill="none" stroke="#7BA6F3" stroke-width="0.5" stroke-linejoin="round" stroke-linecap="round"/><polyline points="288.26,88.2 289.81,82.8 295.97,82.42 298.67,87.43 292.5,92.63" fill="none" stroke="#7BA6F3" stroke-width="0.5" stroke-linejoin="round" stroke-linecap="round"/><polyline points="299.25,87.81 304.07,92.05 305.03,99.38" fill="none" stroke="#7BA6F3" stroke-width="0.5" stroke-linejoin="round" stroke-linecap="round"/><polyline points="304.07,92.05 309.85,91.28 313.7,96.49 309.85,101.69 305.03,99.38" fill="none" stroke="#7BA6F3" stroke-width="0.5" stroke-linejoin="round" stroke-linecap="round"/><text x="218.31" y="41.95" font-size="3.4" text-anchor="middle" fill="#7BA6F3">HN</text><text x="221.58" y="55.44" font-size="3.4" text-anchor="middle" fill="#7BA6F3">N</text><text x="224.09" y="60.83" font-size="3.4" text-anchor="middle" fill="#7BA6F3">Cu</text><text x="215.03" y="65.85" font-size="3.4" text-anchor="middle" fill="#7BA6F3">HN</text><text x="231.8" y="74.71" font-size="3.4" text-anchor="middle" fill="#7BA6F3">O</text><text x="247.22" y="59.68" font-size="3.4" text-anchor="middle" fill="#7BA6F3">O</text><text x="238.16" y="70.47" font-size="3.4" text-anchor="middle" fill="#7BA6F3">HN</text><text x="252.03" y="83.96" font-size="3.4" text-anchor="middle" fill="#7BA6F3">O</text><text x="265.14" y="49.85" font-size="3.4" text-anchor="middle" fill="#7BA6F3">NH₂</text><text x="237.77" y="83.96" font-size="3.4" text-anchor="middle" fill="#7BA6F3">HN</text><text x="234.3" y="101.69" font-size="3.4" text-anchor="middle" fill="#7BA6F3">O</text><text x="226.59" y="90.51" font-size="3.4" text-anchor="middle" fill="#7BA6F3">HO</text><text x="269.38" y="93.6" font-size="3.4" text-anchor="middle" fill="#7BA6F3">NH</text><text x="262.05" y="104" font-size="3.4" text-anchor="middle" fill="#7BA6F3">O</text><text x="280.36" y="99.38" font-size="3.4" text-anchor="middle" fill="#7BA6F3">N</text><text x="286.72" y="111.33" font-size="3.4" text-anchor="middle" fill="#7BA6F3">O</text><text x="280.56" y="90.51" font-size="3.4" text-anchor="middle" fill="#7BA6F3">O</text><text x="297.32" y="83.57" font-size="3.4" text-anchor="middle" fill="#7BA6F3">NH</text><text x="300.21" y="87.81" font-size="3.4" text-anchor="middle" fill="#7BA6F3">Cu</text><text x="304.07" y="92.05" font-size="3.4" text-anchor="middle" fill="#7BA6F3">N</text><text x="316.01" y="97.45" font-size="3.4" text-anchor="middle" fill="#7BA6F3">NH</text><text x="288.65" y="131.18" font-size="3.4" text-anchor="middle" fill="#7BA6F3">NH₂</text><g filter="url(#glow)" opacity="0.55"><polygon points="228.91,115.62 230.79,119.53 235.09,120.11 231.95,123.11 232.73,127.38 228.91,125.32 225.09,127.38 225.86,123.11 222.73,120.11 227.03,119.53" fill="#8FB2F6"/><polygon points="245.48,115.62 247.36,119.53 251.66,120.11 248.52,123.11 249.3,127.38 245.48,125.32 241.66,127.38 242.44,123.11 239.3,120.11 243.6,119.53" fill="#8FB2F6"/></g><line x1="228.91" y1="122.12" x2="245.48" y2="122.12" stroke="#3E73E6" stroke-width="1.2"/><polygon points="228.91,116.92 230.26,120.26 233.85,120.51 231.09,122.83 231.96,126.32 228.91,124.42 225.85,126.32 226.72,122.83 223.96,120.51 227.56,120.26" fill="#3E73E6"/><polygon points="245.48,116.92 246.83,120.26 250.43,120.51 247.67,122.83 248.54,126.32 245.48,124.42 242.42,126.32 243.29,122.83 240.54,120.51 244.13,120.26" fill="#3E73E6"/><polygon points="327.2,47 327.2,128 343.2,86" fill="url(#fun)"/><circle cx="392.4" cy="86.2" r="49.3" fill="#fff" stroke="#8C99CD" stroke-width="1.45"/><g clip-path="url(#cc)"><path d="M357 54.16Q367.44 58.9 373.13 58.43Q378.82 57.95 384.52 59.09Q390.21 60.23 395.9 59.56Q401.59 58.9 406.34 57Q411.08 55.1 414.88 53.68Q418.67 52.26 423.42 53.4L428.16 54.54" fill="none" stroke="#474A86" stroke-width="1.25" stroke-linecap="round"/><path d="M346.57 72.18Q357.95 75.03 363.64 75.98Q369.34 76.93 375.98 75.5Q382.62 74.08 389.26 73.13Q395.9 72.18 401.59 72.18Q407.29 72.18 412.03 70.28Q416.77 68.39 421.52 67.91Q426.26 67.44 430.25 68.86L434.23 70.28" fill="none" stroke="#474A86" stroke-width="1.25" stroke-linecap="round"/><path d="M345.62 87.36Q357.95 90.21 363.64 91.16Q369.34 92.11 375.98 90.68Q382.62 89.26 389.26 88.79Q395.9 88.31 401.59 87.36Q407.29 86.41 412.98 84.99Q418.67 83.57 423.42 83.09Q428.16 82.62 433.66 83.76L439.17 84.9" fill="none" stroke="#474A86" stroke-width="1.25" stroke-linecap="round"/><path d="M347.51 101.59Q357.95 104.44 362.69 105.39Q367.44 106.34 374.08 104.91Q380.72 103.49 386.41 103.02Q392.11 102.54 397.8 103.02Q403.49 103.49 409.18 102.54Q414.88 101.59 419.15 100.46Q423.42 99.32 425.79 97.8Q428.16 96.28 432.14 97.04L436.13 97.8" fill="none" stroke="#474A86" stroke-width="1.25" stroke-linecap="round"/><path d="M353.21 114.88Q363.64 118.67 369.34 119.15Q375.03 119.62 379.77 118.2Q384.52 116.77 390.21 117.25Q395.9 117.72 401.59 116.77Q407.29 115.83 412.98 113.64Q418.67 111.46 423.61 112.41L428.54 113.36" fill="none" stroke="#474A86" stroke-width="1.25" stroke-linecap="round"/><path d="M360.23 51.88Q358.9 63.64 361.75 69.34Q364.59 75.03 365.07 80.72Q365.54 86.41 364.12 93.06Q362.69 99.7 364.59 105.39Q366.49 111.08 363.64 117.91L360.8 124.74" fill="none" stroke="#474A86" stroke-width="1.25" stroke-linecap="round"/><path d="M379.77 46.19Q377.87 57.95 380.72 63.64Q383.57 69.34 384.52 75.98Q385.46 82.62 383.57 89.26Q381.67 95.9 383.09 102.54Q384.52 109.18 382.62 117.72Q380.72 126.26 380.25 128.16L379.77 130.06" fill="none" stroke="#474A86" stroke-width="1.25" stroke-linecap="round"/><path d="M400.08 46.19Q398.75 57.95 402.07 63.64Q405.39 69.34 405.86 75.98Q406.34 82.62 404.91 89.26Q403.49 95.9 404.91 101.59Q406.34 107.29 404.44 114.88Q402.54 122.47 401.59 126.07L400.65 129.68" fill="none" stroke="#474A86" stroke-width="1.25" stroke-linecap="round"/><path d="M418.67 47.51Q419.62 57.95 420.57 62.69Q421.52 67.44 419.15 72.18Q416.77 76.93 418.67 82.62Q420.57 88.31 421.99 94Q423.42 99.7 421.99 105.39Q420.57 111.08 419.62 117.91L418.67 124.74" fill="none" stroke="#474A86" stroke-width="1.25" stroke-linecap="round"/><line x1="366.32" y1="53.97" x2="370.45" y2="55.48" stroke="#E8962E" stroke-width="0.7"/><circle cx="366.32" cy="53.97" r="0.75" fill="#E8962E"/><circle cx="370.45" cy="55.48" r="0.75" fill="#E8962E"/><circle cx="404.34" cy="49.37" r="1.5" fill="#8088C8"/><circle cx="410.23" cy="52.11" r="1.5" fill="#8088C8"/><line x1="404.93" y1="49.64" x2="409.64" y2="51.84" stroke="#E8962E" stroke-width="0.7"/><circle cx="404.93" cy="49.64" r="0.75" fill="#E8962E"/><circle cx="409.64" cy="51.84" r="0.75" fill="#E8962E"/><circle cx="385.37" cy="64.07" r="1.5" fill="#8088C8"/><circle cx="391.26" cy="61.32" r="1.5" fill="#8088C8"/><line x1="385.95" y1="63.79" x2="390.67" y2="61.6" stroke="#E8962E" stroke-width="0.7"/><circle cx="385.95" cy="63.79" r="0.75" fill="#E8962E"/><circle cx="390.67" cy="61.6" r="0.75" fill="#E8962E"/><line x1="410.34" y1="65.72" x2="414.48" y2="64.22" stroke="#E8962E" stroke-width="0.7"/><circle cx="410.34" cy="65.72" r="0.75" fill="#E8962E"/><circle cx="414.48" cy="64.22" r="0.75" fill="#E8962E"/><circle cx="354.94" cy="70.49" r="1.5" fill="#8088C8"/><circle cx="357.16" cy="64.38" r="1.5" fill="#8088C8"/><line x1="355.16" y1="69.88" x2="356.94" y2="65" stroke="#E8962E" stroke-width="0.7"/><circle cx="355.16" cy="69.88" r="0.75" fill="#E8962E"/><circle cx="356.94" cy="65" r="0.75" fill="#E8962E"/><line x1="396.16" y1="72.66" x2="398.68" y2="69.05" stroke="#E8962E" stroke-width="0.7"/><circle cx="396.16" cy="72.66" r="0.75" fill="#E8962E"/><circle cx="398.68" cy="69.05" r="0.75" fill="#E8962E"/><line x1="357.91" y1="82.66" x2="361.02" y2="79.54" stroke="#E8962E" stroke-width="0.7"/><circle cx="357.91" cy="82.66" r="0.75" fill="#E8962E"/><circle cx="361.02" cy="79.54" r="0.75" fill="#E8962E"/><line x1="356.15" y1="85.15" x2="359.75" y2="87.68" stroke="#E8962E" stroke-width="0.7"/><circle cx="356.15" cy="85.15" r="0.75" fill="#E8962E"/><circle cx="359.75" cy="87.68" r="0.75" fill="#E8962E"/><circle cx="370.81" cy="80.62" r="1.5" fill="#8088C8"/><circle cx="373.56" cy="86.51" r="1.5" fill="#8088C8"/><line x1="371.08" y1="81.21" x2="373.28" y2="85.92" stroke="#E8962E" stroke-width="0.7"/><circle cx="371.08" cy="81.21" r="0.75" fill="#E8962E"/><circle cx="373.28" cy="85.92" r="0.75" fill="#E8962E"/><circle cx="396.57" cy="79.38" r="1.5" fill="#8088C8"/><circle cx="397.13" cy="85.86" r="1.5" fill="#8088C8"/><line x1="396.62" y1="80.03" x2="397.08" y2="85.21" stroke="#E8962E" stroke-width="0.7"/><circle cx="396.62" cy="80.03" r="0.75" fill="#E8962E"/><circle cx="397.08" cy="85.21" r="0.75" fill="#E8962E"/><circle cx="417.16" cy="74.67" r="1.5" fill="#8088C8"/><circle cx="418.29" cy="81.08" r="1.5" fill="#8088C8"/><line x1="417.27" y1="75.31" x2="418.17" y2="80.44" stroke="#E8962E" stroke-width="0.7"/><circle cx="417.27" cy="75.31" r="0.75" fill="#E8962E"/><circle cx="418.17" cy="80.44" r="0.75" fill="#E8962E"/><circle cx="429.49" cy="73.73" r="1.5" fill="#8088C8"/><circle cx="430.62" cy="80.13" r="1.5" fill="#8088C8"/><line x1="429.61" y1="74.37" x2="430.51" y2="79.49" stroke="#E8962E" stroke-width="0.7"/><circle cx="429.61" cy="74.37" r="0.75" fill="#E8962E"/><circle cx="430.51" cy="79.49" r="0.75" fill="#E8962E"/><circle cx="353.31" cy="92.76" r="1.5" fill="#8088C8"/><circle cx="355" cy="99.04" r="1.5" fill="#8088C8"/><line x1="353.48" y1="93.39" x2="354.83" y2="98.41" stroke="#E8962E" stroke-width="0.7"/><circle cx="353.48" cy="93.39" r="0.75" fill="#E8962E"/><circle cx="354.83" cy="98.41" r="0.75" fill="#E8962E"/><circle cx="370.29" cy="101.38" r="1.5" fill="#8088C8"/><circle cx="371.42" cy="94.98" r="1.5" fill="#8088C8"/><line x1="370.4" y1="100.74" x2="371.31" y2="95.62" stroke="#E8962E" stroke-width="0.7"/><circle cx="370.4" cy="100.74" r="0.75" fill="#E8962E"/><circle cx="371.31" cy="95.62" r="0.75" fill="#E8962E"/><line x1="391.06" y1="97.21" x2="395.05" y2="95.35" stroke="#E8962E" stroke-width="0.7"/><circle cx="391.06" cy="97.21" r="0.75" fill="#E8962E"/><circle cx="395.05" cy="95.35" r="0.75" fill="#E8962E"/><line x1="413.32" y1="92.83" x2="416.43" y2="95.94" stroke="#E8962E" stroke-width="0.7"/><circle cx="413.32" cy="92.83" r="0.75" fill="#E8962E"/><circle cx="416.43" cy="95.94" r="0.75" fill="#E8962E"/><circle cx="417.53" cy="103.28" r="1.5" fill="#8088C8"/><circle cx="421.71" cy="108.26" r="1.5" fill="#8088C8"/><line x1="417.95" y1="103.78" x2="421.29" y2="107.76" stroke="#E8962E" stroke-width="0.7"/><circle cx="417.95" cy="103.78" r="0.75" fill="#E8962E"/><circle cx="421.29" cy="107.76" r="0.75" fill="#E8962E"/><circle cx="371.78" cy="112.41" r="1.5" fill="#8088C8"/><circle cx="378.28" cy="112.41" r="1.5" fill="#8088C8"/><line x1="372.43" y1="112.41" x2="377.63" y2="112.41" stroke="#E8962E" stroke-width="0.7"/><circle cx="372.43" cy="112.41" r="0.75" fill="#E8962E"/><circle cx="377.63" cy="112.41" r="0.75" fill="#E8962E"/><circle cx="393.34" cy="107.46" r="1.5" fill="#8088C8"/><circle cx="393.91" cy="113.94" r="1.5" fill="#8088C8"/><line x1="393.4" y1="108.11" x2="393.85" y2="113.29" stroke="#E8962E" stroke-width="0.7"/><circle cx="393.4" cy="108.11" r="0.75" fill="#E8962E"/><circle cx="393.85" cy="113.29" r="0.75" fill="#E8962E"/><circle cx="393.8" cy="122.3" r="1.5" fill="#8088C8"/><circle cx="399.9" cy="124.53" r="1.5" fill="#8088C8"/><line x1="394.41" y1="122.53" x2="399.29" y2="124.3" stroke="#E8962E" stroke-width="0.7"/><circle cx="394.41" cy="122.53" r="0.75" fill="#E8962E"/><circle cx="399.29" cy="124.3" r="0.75" fill="#E8962E"/><line x1="409.26" y1="122.47" x2="413.66" y2="122.47" stroke="#E8962E" stroke-width="0.7"/><circle cx="409.26" cy="122.47" r="0.75" fill="#E8962E"/><circle cx="413.66" cy="122.47" r="0.75" fill="#E8962E"/><circle cx="381.67" cy="50.36" r="1.3" fill="#6870B8"/><circle cx="367.44" cy="64.59" r="1.3" fill="#6870B8"/><circle cx="376.93" cy="70.28" r="1.3" fill="#6870B8"/><circle cx="389.26" cy="84.52" r="1.3" fill="#6870B8"/><circle cx="412.6" cy="86.03" r="1.3" fill="#6870B8"/><circle cx="384.9" cy="96.85" r="1.3" fill="#6870B8"/><circle cx="406.34" cy="99.32" r="1.3" fill="#6870B8"/><circle cx="427.78" cy="93.06" r="1.3" fill="#6870B8"/><circle cx="362.13" cy="112.98" r="1.3" fill="#6870B8"/><circle cx="403.11" cy="111.08" r="1.3" fill="#6870B8"/><circle cx="410.7" cy="111.46" r="1.3" fill="#6870B8"/><circle cx="387.36" cy="119.62" r="1.3" fill="#6870B8"/><circle cx="386.41" cy="64.02" r="1.3" fill="#6870B8"/></g><circle cx="418" cy="78" r="5.8" fill="none" stroke="#E8303A" stroke-width="0.9" stroke-dasharray="0.9 0.8"/><line x1="421.5" y1="73.4" x2="445" y2="38.5" stroke="#E8303A" stroke-width="1" stroke-dasharray="0.9 0.8"/><line x1="419.5" y1="83.6" x2="445" y2="133.5" stroke="#E8303A" stroke-width="1" stroke-dasharray="0.9 0.8"/><rect x="444.9" y="34.9" width="65.2" height="102.1" rx="7.2" fill="none" stroke="#E8303A" stroke-width="1.2" stroke-dasharray="1.1 1.1"/><circle cx="473.13" cy="53.04" r="7.2" fill="#A9ACDB"/><polygon points="475.57,53.04 487.39,44.35 487.39,61.74" fill="#EBA85E"/><polyline points="464.78,53.04 470.35,53.04" fill="none" stroke="#333" stroke-width="0.5" stroke-linejoin="round" stroke-linecap="round"/><polyline points="470.35,53.04 473.83,47.83 481.83,47.83 484.78,41.74" fill="none" stroke="#333" stroke-width="0.5" stroke-linejoin="round" stroke-linecap="round"/><polyline points="470.35,53.04 473.83,59.13 481.83,59.13 484.78,65.22" fill="none" stroke="#333" stroke-width="0.5" stroke-linejoin="round" stroke-linecap="round"/><polyline points="481.83,47.83 485.65,53.04 481.83,59.13" fill="none" stroke="#333" stroke-width="0.5" stroke-linejoin="round" stroke-linecap="round"/><polyline points="485.65,53.04 491.22,53.04" fill="none" stroke="#333" stroke-width="0.5" stroke-linejoin="round" stroke-linecap="round"/><path d="M452.26 55.65Q455.22 49.57 458.7 53.04T465.65 53.39" fill="none" stroke="#7C86C8" stroke-width="0.6"/><path d="M491.22 53.04Q497.83 48.7 501.65 53.39" fill="none" stroke="#B08A5A" stroke-width="0.6"/><text x="474.35" y="48.17" font-size="3.2" text-anchor="middle" fill="#333">O</text><text x="474.35" y="60.35" font-size="3.2" text-anchor="middle" fill="#333">O</text><text x="469.65" y="53.74" font-size="3.2" text-anchor="middle" fill="#333">B</text><line x1="483.57" y1="71.3" x2="483.57" y2="90.43" stroke="#E8121C" stroke-width="1.3"/><polygon points="483.57,95.13 481.13,89.22 486,89.22" fill="#E8121C"/><text x="465.65" y="85.74" font-size="6.8" text-anchor="start" fill="#E8222C">ROS</text><path d="M471.39 107.29A7.0 7.0 0 1 0 471.39 115.32L466.15 111.3Z" fill="#A9ACDB"/><path d="M446.52 113.04Q449.48 107.83 452.61 110.78T458.7 111.13" fill="none" stroke="#7C86C8" stroke-width="0.6"/><polyline points="456.09,111.13 461.65,111.13" fill="none" stroke="#333" stroke-width="0.5" stroke-linejoin="round" stroke-linecap="round"/><text x="465.65" y="106.43" font-size="3.3" text-anchor="middle" fill="#333">OH</text><text x="465.65" y="118.43" font-size="3.3" text-anchor="middle" fill="#333">OH</text><text x="461.3" y="111.83" font-size="3.3" text-anchor="middle" fill="#333">B</text><text x="481.83" y="105.91" font-size="3.3" text-anchor="middle" fill="#333">HO</text><text x="481.83" y="118.43" font-size="3.3" text-anchor="middle" fill="#333">HO</text><polygon points="481.83,111.3 494,101.74 494,120.87" fill="#EBA85E"/><polyline points="484.78,104.87 490,104.87 493.48,99.13" fill="none" stroke="#333" stroke-width="0.5" stroke-linejoin="round" stroke-linecap="round"/><polyline points="484.78,117.39 490,117.39 493.48,122.96" fill="none" stroke="#333" stroke-width="0.5" stroke-linejoin="round" stroke-linecap="round"/><polyline points="490,104.87 494,111.13 490,117.39" fill="none" stroke="#333" stroke-width="0.5" stroke-linejoin="round" stroke-linecap="round"/><polyline points="494,111.13 500.43,111.13" fill="none" stroke="#333" stroke-width="0.5" stroke-linejoin="round" stroke-linecap="round"/><path d="M499.57 111.13Q504.78 106.96 508.61 110.78" fill="none" stroke="#B08A5A" stroke-width="0.6"/><g clip-path="url(#pcb)"><rect x="538" y="28" width="130" height="119" fill="#5E5E5E"/><g filter="url(#bl12)"><path d="M532 22C537 12.67 557.83 19.67 562 22C566.17 24.33 558.83 31.33 557 36C555.17 40.67 552.83 45.33 551 50C549.17 54.67 547.67 60 546 64C544.33 68 543.33 71.67 541 74C538.67 76.33 533.5 86.67 532 78C530.5 69.33 527 31.33 532 22Z" fill="#C2C2C2" opacity="1"/><path d="M558 22C564.33 19.33 589.67 19.67 594 22C598.33 24.33 587.33 32.67 584 36C580.67 39.33 576.5 39.67 574 42C571.5 44.33 570.33 46 569 50C567.67 54 566.67 59.83 566 66C565.33 72.17 565.17 80 565 87C564.83 94 566.5 104.5 565 108C563.5 111.5 557.67 111.33 556 108C554.33 104.67 555.67 94 555 88C554.33 82 552.17 77.33 552 72C551.83 66.67 553.33 61.67 554 56C554.67 50.33 555.33 43.67 556 38C556.67 32.33 551.67 24.67 558 22Z" fill="#8C8C8C" opacity="1"/><path d="M532 61C534.33 55 543 60.17 546 62C549 63.83 549.67 68 550 72C550.33 76 549.33 82.33 548 86C546.67 89.67 544.67 92 542 94C539.33 96 533.67 103.5 532 98C530.33 92.5 529.67 67 532 61Z" fill="#B4B4B4" opacity="1"/><path d="M548 70C549.67 67 552.83 67 554 70C555.17 73 554.83 80 555 88C555.17 96 556.5 114.67 555 118C553.5 121.33 549.83 112 546 108C542.17 104 534.33 97.33 532 94C529.67 90.67 530 89 532 88C534 87 541.33 91 544 88C546.67 85 546.33 73 548 70Z" fill="#6C6C6C" opacity="1"/><path d="M532 98C533 90.83 534.67 98 538 101C541.33 104 547.33 111.33 552 116C556.67 120.67 562.33 125 566 129C569.67 133 579.67 137.5 574 140C568.33 142.5 539 151 532 144C525 137 531 105.17 532 98Z" fill="#0E0E0E" opacity="1"/><path d="M588 22C592.33 20 606.33 19.33 610 22C613.67 24.67 609.33 32.67 610 38C610.67 43.33 612.67 49 614 54C615.33 59 616.67 64 618 68C619.33 72 622.33 75.33 622 78C621.67 80.67 619 82.67 616 84C613 85.33 607.67 85.33 604 86C600.33 86.67 595.33 90 594 88C592.67 86 595.83 78.67 596 74C596.17 69.33 596.33 64 595 60C593.67 56 590.5 52.67 588 50C585.5 47.33 580.67 46.67 580 44C579.33 41.33 582.67 37.67 584 34C585.33 30.33 583.67 24 588 22Z" fill="#767676" opacity="1"/><path d="M590 22C592.67 18 601.67 20 604 22C606.33 24 604.67 30 604 34C603.33 38 601.67 43 600 46C598.33 49 596 52 594 52C592 52 588.67 51 588 46C587.33 41 587.33 26 590 22Z" fill="#9E9E9E" opacity="0.7"/><path d="M589 86C592 83.83 600.83 83 602 85C603.17 87 598 93.5 596 98C594 102.5 592 107.33 590 112C588 116.67 585.67 121.33 584 126C582.33 130.67 582.17 137.67 580 140C577.83 142.33 571.83 142.33 571 140C570.17 137.67 573.5 130.67 575 126C576.5 121.33 578.5 116.67 580 112C581.5 107.33 582.5 102.33 584 98C585.5 93.67 586 88.17 589 86Z" fill="#8A8A8A" opacity="1"/><path d="M613 85C614.08 83 618.08 83.5 619 86C619.92 88.5 619.17 95.33 618.5 100C617.83 104.67 616.42 109.67 615 114C613.58 118.33 612 122.33 610 126C608 129.67 605.33 133.33 603 136C600.67 138.67 598.5 141 596 142C593.5 143 588 143.5 588 142C588 140.5 593.33 135.83 596 133C598.67 130.17 601.75 128.33 604 125C606.25 121.67 608.08 117.5 609.5 113C610.92 108.5 611.92 102.67 612.5 98C613.08 93.33 611.92 87 613 85Z" fill="#5C5C5C" opacity="1"/><path d="M621 85C623 83 629.17 83.83 632 86C634.83 88.17 636.5 94.33 638 98C639.5 101.67 640.67 103.67 641 108C641.33 112.33 640.83 118.33 640 124C639.17 129.67 642.67 139 636 142C629.33 145 604.67 143.67 600 142C595.33 140.33 605.67 135.33 608 132C610.33 128.67 612.33 125.67 614 122C615.67 118.33 617 114 618 110C619 106 619.5 102.17 620 98C620.5 93.83 619 87 621 85Z" fill="#262626" opacity="1"/><path d="M638 104C639.67 103 644.33 107 650 108C655.67 109 668.33 104 672 110C675.67 116 678.33 138.33 672 144C665.67 149.67 639.5 147 634 144C628.5 141 638 131 639 126C640 121 640.17 117.67 640 114C639.83 110.33 636.33 105 638 104Z" fill="#101010" opacity="1"/><path d="M654 114C655.17 109.33 659 109.33 660 114C661 118.67 661.17 137.33 660 142C658.83 146.67 654 146.67 653 142C652 137.33 652.83 118.67 654 114Z" fill="#383838" opacity="0.8"/><path d="M642 22C646.33 20.67 667 16 672 22C677 28 673.67 52.67 672 58C670.33 63.33 665.33 56.67 662 54C658.67 51.33 654.67 46 652 42C649.33 38 647.67 33.33 646 30C644.33 26.67 637.67 23.33 642 22Z" fill="#3E3E3E" opacity="1"/><path d="M644 32C646 31.33 650.67 41.67 654 46C657.33 50.33 661 55.33 664 58C667 60.67 670.67 57.67 672 62C673.33 66.33 674.33 81 672 84C669.67 87 662 82.67 658 80C654 77.33 650.67 73 648 68C645.33 63 642.67 56 642 50C641.33 44 642 32.67 644 32Z" fill="#666666" opacity="1"/><path d="M642 68C644.33 68.67 648.33 73.67 652 76C655.67 78.33 660.67 80.67 664 82C667.33 83.33 670.67 79.33 672 84C673.33 88.67 674.67 106 672 110C669.33 114 660.33 109 656 108C651.67 107 648.67 105.67 646 104C643.33 102.33 642 101 640 98C638 95 634.33 90.33 634 86C633.67 81.67 636.67 75 638 72C639.33 69 639.67 67.33 642 68Z" fill="#9C9C9C" opacity="1"/><path d="M625 32C627 30.67 633.5 29.67 636 32C638.5 34.33 638.83 41 640 46C641.17 51 641.83 56.67 643 62C644.17 67.33 645.67 73 647 78C648.33 83 650.5 87.33 651 92C651.5 96.67 651.5 104.5 650 106C648.5 107.5 644.33 103.33 642 101C639.67 98.67 637.83 95.17 636 92C634.17 88.83 632.17 86 631 82C629.83 78 629.67 73 629 68C628.33 63 627.83 56.67 627 52C626.17 47.33 624.33 43.33 624 40C623.67 36.67 623 33.33 625 32Z" fill="#BEBEBE" opacity="1"/><path d="M634 86C635.33 85.67 640.67 89.67 644 92C647.33 94.33 650.33 98.33 654 100C657.67 101.67 663 101.33 666 102C669 102.67 671 102.67 672 104C673 105.33 675.33 109.33 672 110C668.67 110.67 657 109.33 652 108C647 106.67 644.67 104.33 642 102C639.33 99.67 637.33 96.67 636 94C634.67 91.33 632.67 86.33 634 86Z" fill="#C8C8C8" opacity="1"/><path d="M572 45C574.58 45.17 579.83 48.5 583.5 51C587.17 53.5 591.75 56.67 594 60C596.25 63.33 596.83 67.83 597 71C597.17 74.17 596.33 76.67 595 79C593.67 81.33 590.83 82.17 589 85C587.17 87.83 585.5 91.83 584 96C582.5 100.17 581.33 105.5 580 110C578.67 114.5 577.33 119 576 123C574.67 127 573.33 132.5 572 134C570.67 135.5 568.92 133.5 568 132C567.08 130.5 566.83 128.5 566.5 125C566.17 121.5 566.33 114.67 566 111C565.67 107.33 564.75 107 564.5 103C564.25 99 564.33 93.17 564.5 87C564.67 80.83 564.92 72.17 565.5 66C566.08 59.83 566.92 53.5 568 50C569.08 46.5 569.42 44.83 572 45Z" fill="#060606" opacity="1"/><path d="M606 32C606.67 29.83 611.33 30.67 614 31C616.67 31.33 619.83 31.83 622 34C624.17 36.17 625.83 40.33 627 44C628.17 47.67 628.83 51.67 629 56C629.17 60.33 628.67 65.67 628 70C627.33 74.33 626.17 80.67 625 82C623.83 83.33 622.17 80.33 621 78C619.83 75.67 619.17 71.67 618 68C616.83 64.33 615.33 60 614 56C612.67 52 611.33 48 610 44C608.67 40 605.33 34.17 606 32Z" fill="#0C0C0C" opacity="1"/><path d="M608 40C609.33 42.33 612.33 53 614 58C615.67 63 618 67.67 618 70C618 72.33 615.33 74 614 72C612.67 70 611.33 62.67 610 58C608.67 53.33 606.33 47 606 44C605.67 41 606.67 37.67 608 40Z" fill="#484848" opacity="0.7"/><path d="M601 88C602.67 84.83 605.17 85.17 607 85C608.83 84.83 611.17 84.5 612 87C612.83 89.5 612.5 95.5 612 100C611.5 104.5 610.33 109.67 609 114C607.67 118.33 605.83 123 604 126C602.17 129 599.83 131.33 598 132C596.17 132.67 593.67 132.33 593 130C592.33 127.67 593.33 122.33 594 118C594.67 113.67 595.83 109 597 104C598.17 99 599.33 91.17 601 88Z" fill="#0A0A0A" opacity="1"/><path d="M648 29C648.5 28 650.67 28.17 651 29C651.33 29.83 650.5 33 650 34C649.5 35 648.33 35.83 648 35C647.67 34.17 647.5 30 648 29Z" fill="#111" opacity="1"/></g><g filter="url(#bl05)"><path d="M536 64C537.17 60.83 541.17 61.83 543 63C544.83 64.17 546.67 68 547 71C547.33 74 546.17 78.17 545 81C543.83 83.83 541.5 87.83 540 88C538.5 88.17 536.67 86 536 82C535.33 78 534.83 67.17 536 64Z" fill="#E2E2E2" opacity="1"/><path d="M556 104C557.17 101.5 560.25 100.33 562 101C563.75 101.67 565.83 105.17 566.5 108C567.17 110.83 566.42 115 566 118C565.58 121 565.17 124.83 564 126C562.83 127.17 560.5 126.67 559 125C557.5 123.33 555.5 119.5 555 116C554.5 112.5 554.83 106.5 556 104Z" fill="#D6D6D6" opacity="1"/><path d="M538 100C536.17 96.83 538.33 97.67 541 100C543.67 102.33 549.5 109.33 554 114C558.5 118.67 566 125.17 568 128C570 130.83 568.67 132.5 566 131C563.33 129.5 556.67 124.17 552 119C547.33 113.83 539.83 103.17 538 100Z" fill="#CFCFCF" opacity="1"/><path d="M548 120C548.5 119 551.17 117.67 552 118C552.83 118.33 553.5 121 553 122C552.5 123 549.83 124.33 549 124C548.17 123.67 547.5 121 548 120Z" fill="#D0D0D0" opacity="1"/><path d="M630 42C630.83 40.83 633.17 40 634 41C634.83 42 635.33 46.17 635 48C634.67 49.83 633 52 632 52C631 52 629.33 49.67 629 48C628.67 46.33 629.17 43.17 630 42Z" fill="#F0F0F0" opacity="1"/><path d="M636 42C636.5 40.67 639.33 41 640 42C640.67 43 640.5 46.67 640 48C639.5 49.33 637.67 51 637 50C636.33 49 635.5 43.33 636 42Z" fill="#ECECEC" opacity="1"/><path d="M627 58C627.67 56.33 630 54.33 631 56C632 57.67 633.17 64 633 68C632.83 72 631.17 78.67 630 80C628.83 81.33 626.5 78.33 626 76C625.5 73.67 626.83 69 627 66C627.17 63 626.33 59.67 627 58Z" fill="#E6E6E6" opacity="1"/><path d="M634 26C634.83 25.33 638.33 25.33 639 26C639.67 26.67 638.83 29.33 638 30C637.17 30.67 634.67 30.67 634 30C633.33 29.33 633.17 26.67 634 26Z" fill="#E0E0E0" opacity="1"/><path d="M610.6 70C609.77 68.33 610.6 67.08 613 69C615.4 70.92 623.17 79 625 81.5C626.83 84 625.17 84.42 624 84C622.83 83.58 620.23 81.33 618 79C615.77 76.67 611.43 71.67 610.6 70Z" fill="#DADADA" opacity="1"/><path d="M601 50C601.83 49.17 604.5 47.67 605 48C605.5 48.33 604.83 51.17 604 52C603.17 52.83 600.5 53.33 600 53C599.5 52.67 600.17 50.83 601 50Z" fill="#D4D4D4" opacity="1"/><path d="M630.5 104C631 104 632.42 108.67 632 112C631.58 115.33 629.67 120 628 124C626.33 128 623.33 134.17 622 136C620.67 137.83 619.33 137.33 620 135C620.67 132.67 624.5 125.83 626 122C627.5 118.17 628.25 115 629 112C629.75 109 630 104 630.5 104Z" fill="#ACACAC" opacity="0.9"/><path d="M662 128C664 124.67 670.33 119.67 672 122C673.67 124.33 674 138.67 672 142C670 145.33 661.67 144.33 660 142C658.33 139.67 660 131.33 662 128Z" fill="#D0D0D0" opacity="1"/><path d="M638 106C638.17 103.67 639.5 103.67 640 106C640.5 108.33 641.17 117.67 641 120C640.83 122.33 639.5 122.33 639 120C638.5 117.67 637.83 108.33 638 106Z" fill="#B8B8B8" opacity="0.8"/><path d="M578 94C578.67 92 582.83 89.67 584 90C585.17 90.33 585.67 94 585 96C584.33 98 581.17 102.33 580 102C578.83 101.67 577.33 96 578 94Z" fill="#BEBEBE" opacity="0.8"/><path d="M574 114C574.5 112.83 577.17 111.5 578 112C578.83 112.5 579.5 115.83 579 117C578.5 118.17 575.83 119.5 575 119C574.17 118.5 573.5 115.17 574 114Z" fill="#B8B8B8" opacity="0.8"/><path d="M612 90C613 88.67 618.67 87.67 620 88C621.33 88.33 621 90.67 620 92C619 93.33 615.33 96.33 614 96C612.67 95.67 611 91.33 612 90Z" fill="#A8A8A8" opacity="0.7"/><path d="M573 43.5C572.17 44.5 569.3 45.75 568 49.5C566.7 53.25 565.87 59.75 565.2 66C564.53 72.25 564.2 80.67 564 87C563.8 93.33 564 101.17 564 104" fill="none" stroke="#CFCFCF" stroke-width="0.9" stroke-linecap="round" opacity="0.9"/><path d="M573 43.5C574.83 44.5 580.37 46.92 584 49.5C587.63 52.08 592.47 55.42 594.8 59C597.13 62.58 597.8 67.58 598 71C598.2 74.42 596.33 78.08 596 79.5" fill="none" stroke="#B8B8B8" stroke-width="0.8" stroke-linecap="round" opacity="0.8"/><path d="M588.5 87C587.67 88.83 585 93.83 583.5 98C582 102.17 580.83 107.33 579.5 112C578.17 116.67 576.83 121.67 575.5 126C574.17 130.33 572.17 136 571.5 138" fill="none" stroke="#C6C6C6" stroke-width="0.9" stroke-linecap="round" opacity="0.9"/><path d="M602.5 85C601.5 87.17 598.5 93.5 596.5 98C594.5 102.5 592.5 107.33 590.5 112C588.5 116.67 586.17 121.5 584.5 126C582.83 130.5 581.17 136.83 580.5 139" fill="none" stroke="#B4B4B4" stroke-width="0.8" stroke-linecap="round" opacity="0.8"/><path d="M613 85C612.97 87.17 613.33 93.33 612.8 98C612.27 102.67 611.2 108.5 609.8 113C608.4 117.5 606.63 121.58 604.4 125C602.17 128.42 597.73 132.08 596.4 133.5" fill="none" stroke="#9E9E9E" stroke-width="0.8" stroke-linecap="round" opacity="0.8"/><path d="M606 31C606.67 33.17 608.58 39.5 610 44C611.42 48.5 613 53.5 614.5 58C616 62.5 617.33 67.17 619 71C620.67 74.83 623.58 79.33 624.5 81" fill="none" stroke="#A8A8A8" stroke-width="0.7" stroke-linecap="round" opacity="0.7"/><path d="M624 33C624.42 34.5 625.75 38.17 626.5 42C627.25 45.83 628.33 51.33 628.5 56C628.67 60.67 627.67 67.67 627.5 70" fill="none" stroke="#D8D8D8" stroke-width="0.9" stroke-linecap="round" opacity="0.9"/><path d="M632 86C633.5 88.33 638 96.67 641 100C644 103.33 645.67 104.58 650 106C654.33 107.42 664.17 108.08 667 108.5" fill="none" stroke="#E4E4E4" stroke-width="1.0" stroke-linecap="round" opacity="0.9"/><path d="M540 36C541 35.33 543.67 33.17 546 32C548.33 30.83 552.67 29.5 554 29" fill="none" stroke="#D6D6D6" stroke-width="0.9" stroke-linecap="round" opacity="0.8"/><path d="M539 58C539.5 56 540.67 50 542 46C543.33 42 545.67 37 547 34C548.33 31 549.5 29 550 28" fill="none" stroke="#E6E6E6" stroke-width="1.6" stroke-linecap="round" opacity="0.7"/><path d="M544 62C544.5 60 545.67 54 547 50C548.33 46 550.33 41.5 552 38C553.67 34.5 556.17 30.5 557 29" fill="none" stroke="#DCDCDC" stroke-width="1.2" stroke-linecap="round" opacity="0.6"/><path d="M550 68C550.5 66 551.83 60 553 56C554.17 52 556.33 46 557 44" fill="none" stroke="#7E7E7E" stroke-width="1.2" stroke-linecap="round" opacity="0.6"/><path d="M542 50C543 48.33 545.67 43 548 40C550.33 37 554.67 33.33 556 32" fill="none" stroke="#CDCDCD" stroke-width="0.9" stroke-linecap="round" opacity="0.7"/><path d="M558 54C558.67 52.33 560 46.83 562 44C564 41.17 567 38.83 570 37C573 35.17 578.33 33.67 580 33" fill="none" stroke="#B8B8B8" stroke-width="0.9" stroke-linecap="round" opacity="0.7"/><ellipse cx="541.24" cy="64.53" rx="1.02" ry="0.67" fill="#EEE" opacity="0.73"/><ellipse cx="538.58" cy="75.22" rx="0.53" ry="0.5" fill="#EEE" opacity="0.68"/><ellipse cx="543.51" cy="61.77" rx="0.95" ry="1.29" fill="#EEE" opacity="0.8"/><ellipse cx="541.97" cy="89.29" rx="0.54" ry="0.69" fill="#F4F4F4" opacity="0.75"/><ellipse cx="543.41" cy="77.13" rx="0.95" ry="1.09" fill="#EEE" opacity="0.8"/><ellipse cx="544.39" cy="71.17" rx="0.94" ry="0.61" fill="#EEE" opacity="0.82"/><ellipse cx="542.96" cy="75.95" rx="1.12" ry="1.09" fill="#9A9A9A" opacity="0.73"/><ellipse cx="540.48" cy="65.39" rx="1.12" ry="0.75" fill="#F4F4F4" opacity="0.78"/><ellipse cx="546.75" cy="81.88" rx="0.73" ry="1.01" fill="#EEE" opacity="0.78"/><ellipse cx="539.65" cy="70.26" rx="1.25" ry="1.17" fill="#EEE" opacity="0.87"/><ellipse cx="543.73" cy="86.26" rx="0.75" ry="0.87" fill="#9A9A9A" opacity="0.8"/><ellipse cx="542.56" cy="85.2" rx="1.26" ry="1.23" fill="#EEE" opacity="0.62"/><ellipse cx="545.01" cy="79.41" rx="1.29" ry="1.63" fill="#F4F4F4" opacity="0.85"/><ellipse cx="546.87" cy="70.41" rx="1.25" ry="1.11" fill="#EEE" opacity="0.77"/><ellipse cx="540.18" cy="68.62" rx="1.09" ry="1" fill="#9A9A9A" opacity="0.63"/><ellipse cx="542.49" cy="76.48" rx="1.21" ry="1.51" fill="#F4F4F4" opacity="0.85"/><ellipse cx="566.84" cy="118.39" rx="0.77" ry="0.6" fill="#EEE" opacity="0.66"/><ellipse cx="557.78" cy="107.6" rx="0.84" ry="0.9" fill="#F6F6F6" opacity="0.7"/><ellipse cx="556.75" cy="114.83" rx="0.93" ry="0.79" fill="#E4E4E4" opacity="0.84"/><ellipse cx="561.19" cy="116.82" rx="0.97" ry="0.63" fill="#A8A8A8" opacity="0.74"/><ellipse cx="559.73" cy="113.56" rx="0.78" ry="0.59" fill="#E4E4E4" opacity="0.75"/><ellipse cx="556.32" cy="116.42" rx="0.57" ry="0.6" fill="#EEE" opacity="0.93"/><ellipse cx="562.36" cy="103.69" rx="0.65" ry="0.58" fill="#F6F6F6" opacity="0.93"/><ellipse cx="562.23" cy="113.38" rx="0.58" ry="0.58" fill="#A8A8A8" opacity="0.77"/><ellipse cx="558.74" cy="105.46" rx="1.02" ry="1.22" fill="#A8A8A8" opacity="0.89"/><ellipse cx="556.94" cy="102.55" rx="1.17" ry="1.19" fill="#E4E4E4" opacity="0.84"/><ellipse cx="565.97" cy="120.2" rx="0.71" ry="0.79" fill="#EEE" opacity="0.84"/><ellipse cx="558.13" cy="110.8" rx="0.62" ry="0.75" fill="#F6F6F6" opacity="0.82"/><ellipse cx="562.36" cy="120.92" rx="1.03" ry="0.78" fill="#E4E4E4" opacity="0.89"/><ellipse cx="563.88" cy="107.44" rx="0.86" ry="0.76" fill="#EEE" opacity="0.95"/><ellipse cx="638.64" cy="62.56" rx="0.65" ry="0.71" fill="#FAFAFA" opacity="0.76"/><ellipse cx="640.99" cy="89.38" rx="1.26" ry="1.13" fill="#E6E6E6" opacity="0.64"/><ellipse cx="633.52" cy="55.56" rx="0.89" ry="1.23" fill="#F2F2F2" opacity="0.77"/><ellipse cx="636.45" cy="79.58" rx="0.57" ry="0.64" fill="#9E9E9E" opacity="0.87"/><ellipse cx="638" cy="62.86" rx="0.64" ry="0.79" fill="#FAFAFA" opacity="0.63"/><ellipse cx="641.14" cy="75.53" rx="0.87" ry="1.04" fill="#F2F2F2" opacity="0.85"/><ellipse cx="628.72" cy="44.61" rx="0.62" ry="0.82" fill="#E6E6E6" opacity="0.81"/><ellipse cx="635.53" cy="62.67" rx="1.25" ry="0.91" fill="#E6E6E6" opacity="0.61"/><ellipse cx="638.79" cy="75.77" rx="0.58" ry="0.7" fill="#E6E6E6" opacity="0.75"/><ellipse cx="639.95" cy="80.96" rx="0.67" ry="0.54" fill="#FAFAFA" opacity="0.78"/><ellipse cx="638.22" cy="54.95" rx="0.94" ry="1.19" fill="#F2F2F2" opacity="0.92"/><ellipse cx="631.66" cy="61.82" rx="0.97" ry="1.28" fill="#9E9E9E" opacity="0.89"/><ellipse cx="640.05" cy="44.8" rx="0.62" ry="0.63" fill="#9E9E9E" opacity="0.87"/><ellipse cx="635.74" cy="78.35" rx="0.62" ry="0.44" fill="#F2F2F2" opacity="0.79"/><ellipse cx="631.22" cy="64.95" rx="0.94" ry="1.16" fill="#F2F2F2" opacity="0.91"/><ellipse cx="626.91" cy="47.95" rx="0.53" ry="0.36" fill="#9E9E9E" opacity="0.8"/><ellipse cx="638.16" cy="85.45" rx="0.85" ry="0.93" fill="#E6E6E6" opacity="0.84"/><ellipse cx="633.24" cy="65.73" rx="0.88" ry="1.19" fill="#FAFAFA" opacity="0.92"/><ellipse cx="640.28" cy="48.53" rx="0.86" ry="0.8" fill="#9E9E9E" opacity="0.75"/><ellipse cx="627.16" cy="50.51" rx="0.56" ry="0.63" fill="#F2F2F2" opacity="0.91"/><ellipse cx="628.47" cy="75.24" rx="1.03" ry="0.73" fill="#E6E6E6" opacity="0.94"/><ellipse cx="629.51" cy="87.53" rx="0.82" ry="0.81" fill="#E6E6E6" opacity="0.66"/><ellipse cx="632.9" cy="64.81" rx="0.77" ry="0.58" fill="#FAFAFA" opacity="0.63"/><ellipse cx="631.86" cy="55.57" rx="0.87" ry="1.01" fill="#9E9E9E" opacity="0.72"/><ellipse cx="635.98" cy="64.64" rx="0.55" ry="0.77" fill="#E6E6E6" opacity="0.94"/><ellipse cx="627.68" cy="51.81" rx="0.53" ry="0.65" fill="#FAFAFA" opacity="0.86"/><ellipse cx="586.2" cy="104.99" rx="0.74" ry="1" fill="#C8C8C8" opacity="0.65"/><ellipse cx="587.19" cy="99.41" rx="0.75" ry="0.5" fill="#D8D8D8" opacity="0.88"/><ellipse cx="579.83" cy="105.91" rx="0.53" ry="0.33" fill="#D8D8D8" opacity="0.88"/><ellipse cx="578.84" cy="105.12" rx="0.43" ry="0.56" fill="#C8C8C8" opacity="0.6"/><ellipse cx="587.94" cy="96.36" rx="0.86" ry="0.94" fill="#D8D8D8" opacity="0.78"/><ellipse cx="580.38" cy="90.19" rx="0.48" ry="0.31" fill="#D8D8D8" opacity="0.93"/><ellipse cx="584.29" cy="98.62" rx="0.5" ry="0.48" fill="#D8D8D8" opacity="0.69"/><ellipse cx="586.04" cy="107.89" rx="0.42" ry="0.26" fill="#D8D8D8" opacity="0.78"/><ellipse cx="598.95" cy="57.62" rx="0.73" ry="0.82" fill="#BEBEBE" opacity="0.79"/><ellipse cx="606.66" cy="71.23" rx="0.55" ry="0.43" fill="#D0D0D0" opacity="0.72"/><ellipse cx="605.99" cy="64.37" rx="0.72" ry="0.66" fill="#BEBEBE" opacity="0.94"/><ellipse cx="606.04" cy="46.37" rx="0.71" ry="0.93" fill="#BEBEBE" opacity="0.66"/><ellipse cx="597.01" cy="67.87" rx="0.84" ry="0.95" fill="#BEBEBE" opacity="0.81"/><ellipse cx="604.31" cy="47.18" rx="0.49" ry="0.4" fill="#D0D0D0" opacity="0.69"/><ellipse cx="607.54" cy="71.29" rx="0.67" ry="0.54" fill="#BEBEBE" opacity="0.68"/><ellipse cx="598.2" cy="54.72" rx="0.44" ry="0.36" fill="#D0D0D0" opacity="0.69"/><ellipse cx="659.29" cy="87.82" rx="0.99" ry="0.71" fill="#B0B0B0" opacity="0.61"/><ellipse cx="636.67" cy="92.08" rx="0.64" ry="0.68" fill="#B0B0B0" opacity="0.9"/><ellipse cx="640.66" cy="103.86" rx="0.97" ry="1.05" fill="#F0F0F0" opacity="0.85"/><ellipse cx="650.83" cy="91.68" rx="0.87" ry="0.62" fill="#B0B0B0" opacity="0.91"/><ellipse cx="654.82" cy="100.68" rx="0.99" ry="0.7" fill="#B0B0B0" opacity="0.86"/><ellipse cx="653.05" cy="102.26" rx="0.51" ry="0.59" fill="#B0B0B0" opacity="0.84"/><ellipse cx="656.8" cy="90.6" rx="0.52" ry="0.37" fill="#F0F0F0" opacity="0.94"/><ellipse cx="647.3" cy="95.03" rx="0.53" ry="0.33" fill="#B0B0B0" opacity="0.84"/><ellipse cx="650.68" cy="86.07" rx="0.98" ry="1.17" fill="#B0B0B0" opacity="0.91"/><ellipse cx="638.76" cy="96.52" rx="0.95" ry="0.93" fill="#E8E8E8" opacity="0.9"/></g><rect x="538" y="28" width="130" height="111" filter="url(#grain)" opacity="0.16"/><rect x="538" y="138.6" width="130" height="8" fill="#0a0a0a"/><rect x="538.6" y="139.2" width="67" height="6.6" fill="none" stroke="#bbb" stroke-width="0.3"/><line x1="564" y1="139.2" x2="564" y2="142.5" stroke="#bbb" stroke-width="0.3"/><line x1="575" y1="139.2" x2="575" y2="142.5" stroke="#bbb" stroke-width="0.3"/><line x1="586" y1="139.2" x2="586" y2="142.5" stroke="#bbb" stroke-width="0.3"/><line x1="598" y1="139.2" x2="598" y2="142.5" stroke="#bbb" stroke-width="0.3"/><line x1="538.6" y1="142.5" x2="605.6" y2="142.5" stroke="#bbb" stroke-width="0.3"/><text x="551" y="142" font-size="3.1" text-anchor="middle" fill="#f2f2f2">2020/06/05</text><text x="551" y="145.5" font-size="3.1" text-anchor="middle" fill="#f2f2f2">1:18:05 PM</text><text x="569.5" y="142" font-size="3.1" text-anchor="middle" fill="#f2f2f2">mag ⊞</text><text x="569.5" y="145.5" font-size="3.1" text-anchor="middle" fill="#f2f2f2">1 500 x</text><text x="580.5" y="142" font-size="3.1" text-anchor="middle" fill="#f2f2f2">HV</text><text x="580.5" y="145.5" font-size="3.1" text-anchor="middle" fill="#f2f2f2">20.00 kV</text><text x="592" y="142" font-size="3.1" text-anchor="middle" fill="#f2f2f2">WD</text><text x="592" y="145.5" font-size="3.1" text-anchor="middle" fill="#f2f2f2">10.7 mm</text><text x="601.8" y="142" font-size="3.1" text-anchor="middle" fill="#f2f2f2">det</text><text x="601.8" y="145.5" font-size="3.1" text-anchor="middle" fill="#f2f2f2">ETD</text><text x="636" y="145.9" font-size="2.8" text-anchor="middle" fill="#ddd">Titan</text><rect x="610.2" y="140.7" width="52.8" height="1.7" fill="#fff"/><text x="638" y="138.2" font-size="6.6" text-anchor="middle" fill="#fff">50 µm</text></g><g clip-path="url(#pc0)"><rect x="24.1" y="628" width="119" height="120" fill="url(#bgA)"/><g filter="url(#bl1)"><path d="M12.1 698C13.6 687.67 14.77 692.17 21.1 692C27.43 691.83 44.43 694.83 50.1 697C55.77 699.17 53.68 702.33 55.1 705C56.52 707.67 57.6 710.17 58.6 713C59.6 715.83 60.63 719.5 61.1 722C61.57 724.5 61.82 726 61.4 728C60.98 730 60.15 732.33 58.6 734C57.05 735.67 54.38 737.07 52.1 738C49.82 738.93 46.63 738.6 44.9 739.6C43.17 740.6 42.42 742.27 41.7 744C40.98 745.73 42.2 747.67 40.6 750C39 752.33 36.85 757.33 32.1 758C27.35 758.67 15.43 764 12.1 754C8.77 744 10.6 708.33 12.1 698Z" fill="url(#skinF)"/><path d="M10.1 660C11.77 653.47 16.43 655.57 20.1 654.8C23.77 654.03 28.1 654.78 32.1 655.4C36.1 656.02 39.93 656.98 44.1 658.5C48.27 660.02 52.1 662.75 57.1 664.5C62.1 666.25 67.93 667.67 74.1 669C80.27 670.33 88.43 671.75 94.1 672.5C99.77 673.25 103.1 673.62 108.1 673.5C113.1 673.38 119.43 672.38 124.1 671.8C128.77 671.22 132.43 670.47 136.1 670C139.77 669.53 142.77 668.67 146.1 669C149.43 669.33 154.43 669.17 156.1 672C157.77 674.83 157.77 683.17 156.1 686C154.43 688.83 149.77 688.25 146.1 689C142.43 689.75 138.6 689.83 134.1 690.5C129.6 691.17 124.43 692.17 119.1 693C113.77 693.83 107.93 694.75 102.1 695.5C96.27 696.25 90.1 696.92 84.1 697.5C78.1 698.08 71.77 698.67 66.1 699C60.43 699.33 55.43 699.17 50.1 699.5C44.77 699.83 39.1 700.58 34.1 701C29.1 701.42 24.1 703.17 20.1 702C16.1 700.83 11.77 701 10.1 694C8.43 687 8.43 666.53 10.1 660Z" fill="url(#skinH)"/></g><g filter="url(#bl12)"><path d="M24.1 700.5C26.43 699.33 33.77 700.25 38.1 700C42.43 699.75 47.43 698.33 50.1 699C52.77 699.67 55.1 702.92 54.1 704C53.1 705.08 47.77 705.08 44.1 705.5C40.43 705.92 35.43 706.25 32.1 706.5C28.77 706.75 25.43 708 24.1 707C22.77 706 21.77 701.67 24.1 700.5Z" fill="#B98A60" opacity="0.6"/><path d="M22.1 710C23.77 710.67 28.6 712.33 32.1 714C35.6 715.67 39.77 718.17 43.1 720C46.43 721.83 49.6 723.58 52.1 725C54.6 726.42 57.1 727.92 58.1 728.5" fill="none" stroke="#94623E" stroke-width="3.4" stroke-linecap="round" opacity="0.75"/><path d="M22.1 731C23.6 731.58 28.27 733.25 31.1 734.5C33.93 735.75 37.27 737.42 39.1 738.5C40.93 739.58 41.6 740.58 42.1 741" fill="none" stroke="#94623E" stroke-width="3.0" stroke-linecap="round" opacity="0.7"/><path d="M55.1 706C55.77 707.5 58.18 712 59.1 715C60.02 718 60.35 722.5 60.6 724" fill="none" stroke="#B98A60" stroke-width="2.2" stroke-linecap="round" opacity="0.55"/><path d="M28.1 741C29.77 740.33 34.27 741 36.1 742C37.93 743 40.1 745.67 39.1 747C38.1 748.33 32.27 750.17 30.1 750C27.93 749.83 26.43 747.5 26.1 746C25.77 744.5 26.43 741.67 28.1 741Z" fill="#E8CCB8" opacity="0.7"/><path d="M24.1 659C25.77 653.92 32.1 655 34.1 659.5C36.1 664 37.77 680.92 36.1 686C34.43 691.08 26.1 694.5 24.1 690C22.1 685.5 22.43 664.08 24.1 659Z" fill="#F4DCC2" opacity="0.4"/><path d="M122.1 674.5C124.1 671.75 130.6 673.42 134.1 673C137.6 672.58 141.6 669.83 143.1 672C144.6 674.17 145.27 683.33 143.1 686C140.93 688.67 133.6 687.42 130.1 688C126.6 688.58 123.43 691.75 122.1 689.5C120.77 687.25 120.1 677.25 122.1 674.5Z" fill="#EBB59A" opacity="0.4"/></g><path d="M57.1 665.5C56.27 664.25 59.27 663.28 61.1 662.5C62.93 661.72 65.1 661.08 68.1 660.8C71.1 660.52 75.1 660.6 79.1 660.8C83.1 661 88.27 661.3 92.1 662C95.93 662.7 99.6 663.83 102.1 665C104.6 666.17 106.1 667.67 107.1 669C108.1 670.33 108.93 672.03 108.1 673C107.27 673.97 105.1 674.55 102.1 674.8C99.1 675.05 94.1 674.88 90.1 674.5C86.1 674.12 82.1 673.25 78.1 672.5C74.1 671.75 69.6 671.17 66.1 670C62.6 668.83 57.93 666.75 57.1 665.5Z" fill="url(#gel)" filter="url(#bl05)"/><path d="M64.1 662.6C64.43 662.38 68.77 662.1 72.1 662.2C75.43 662.3 81.1 662.83 84.1 663.2C87.1 663.57 90.43 664.23 90.1 664.4C89.77 664.57 85.43 664.35 82.1 664.2C78.77 664.05 73.1 663.77 70.1 663.5C67.1 663.23 63.77 662.82 64.1 662.6Z" fill="#CDBDF0" opacity="0.8" filter="url(#bl05)"/></g><text x="137.9" y="639.9" font-size="11.4" text-anchor="end" fill="#111">Original</text><g clip-path="url(#pc1)"><rect x="147.1" y="628" width="119" height="120" fill="url(#bgB)"/><g filter="url(#bl1)"><path d="M135.1 692C136.6 680.67 135.1 688.33 144.1 688C153.1 687.67 180.27 687.67 189.1 690C197.93 692.33 194.6 697.83 197.1 702C199.6 706.17 202.52 711 204.1 715C205.68 719 206.77 722.83 206.6 726C206.43 729.17 205.18 732 203.1 734C201.02 736 196.6 736.83 194.1 738C191.6 739.17 188.27 739 188.1 741C187.93 743 193.27 746.83 193.1 750C192.93 753.17 196.77 759 187.1 760C177.43 761 143.77 767.33 135.1 756C126.43 744.67 133.6 703.33 135.1 692Z" fill="url(#skinF2)"/><path d="M217.1 664C219.27 659.83 222.77 660.17 226.1 661C229.43 661.83 234.1 665.5 237.1 669C240.1 672.5 242.27 677.17 244.1 682C245.93 686.83 247.77 692.67 248.1 698C248.43 703.33 247.43 709.17 246.1 714C244.77 718.83 242.1 723.67 240.1 727C238.1 730.33 236.1 733.17 234.1 734C232.1 734.83 229.77 733.83 228.1 732C226.43 730.17 224.93 726.5 224.1 723C223.27 719.5 222.93 715 223.1 711C223.27 707 225.6 702.33 225.1 699C224.6 695.67 222.1 693.17 220.1 691C218.1 688.83 213.6 690.5 213.1 686C212.6 681.5 214.93 668.17 217.1 664Z" fill="url(#skinV)"/><path d="M133.1 664C134.77 659.42 138.27 659.42 143.1 658.5C147.93 657.58 156.1 658.42 162.1 658.5C168.1 658.58 173.77 658.75 179.1 659C184.43 659.25 189.1 659.58 194.1 660C199.1 660.42 204.27 661.17 209.1 661.5C213.93 661.83 219.77 660.92 223.1 662C226.43 663.08 228.77 665 229.1 668C229.43 671 227.43 676.58 225.1 680C222.77 683.42 219.43 686.92 215.1 688.5C210.77 690.08 203.43 689.08 199.1 689.5C194.77 689.92 194.43 690.58 189.1 691C183.77 691.42 174.77 691.83 167.1 692C159.43 692.17 148.77 693 143.1 692C137.43 691 134.77 690.67 133.1 686C131.43 681.33 131.43 668.58 133.1 664Z" fill="url(#skinH)"/></g><g filter="url(#bl12)"><path d="M153.1 693C156.77 691.42 169.1 692.75 175.1 692.5C181.1 692.25 186.1 690.58 189.1 691.5C192.1 692.42 194.43 696.75 193.1 698C191.77 699.25 185.77 698.58 181.1 699C176.43 699.42 169.77 700 165.1 700.5C160.43 701 155.1 703.25 153.1 702C151.1 700.75 149.43 694.58 153.1 693Z" fill="#B98A60" opacity="0.55"/><path d="M152.1 719C153.6 718.17 158.1 715.25 161.1 714C164.1 712.75 166.93 711.5 170.1 711.5C173.27 711.5 176.6 712.67 180.1 714C183.6 715.33 187.6 717.83 191.1 719.5C194.6 721.17 199.43 723.25 201.1 724" fill="none" stroke="#94623E" stroke-width="3.4" stroke-linecap="round" opacity="0.75"/><path d="M165.1 704C165.77 704.67 168.27 706.67 169.1 708C169.93 709.33 169.93 711.33 170.1 712" fill="none" stroke="#94623E" stroke-width="2.6" stroke-linecap="round" opacity="0.6"/><path d="M145.1 728C147.1 728.67 152.77 730.33 157.1 732C161.43 733.67 166.77 736.17 171.1 738C175.43 739.83 181.1 742.17 183.1 743" fill="none" stroke="#A87650" stroke-width="2.6" stroke-linecap="round" opacity="0.55"/><path d="M182.1 740C183.27 738.25 188.27 738.67 190.1 739.5C191.93 740.33 192.93 743.25 193.1 745C193.27 746.75 192.77 749.17 191.1 750C189.43 750.83 184.6 751.67 183.1 750C181.6 748.33 180.93 741.75 182.1 740Z" fill="#EBD2C2" opacity="0.75"/><path d="M214.1 685C214.27 684.58 217.52 687.83 219.1 690C220.68 692.17 222.93 694.33 223.6 698C224.27 701.67 222.85 707.67 223.1 712C223.35 716.33 224.1 720.83 225.1 724C226.1 727.17 228.77 729.58 229.1 731C229.43 732.42 228.1 733.67 227.1 732.5C226.1 731.33 224 727.58 223.1 724C222.2 720.42 221.7 715 221.7 711C221.7 707 223.7 703.08 223.1 700C222.5 696.92 219.6 695 218.1 692.5C216.6 690 213.93 685.42 214.1 685Z" fill="#A87650" opacity="0.55"/><path d="M211.1 664C213.1 661.33 220.1 663 223.1 664C226.1 665 228.77 667.33 229.1 670C229.43 672.67 227.1 677.33 225.1 680C223.1 682.67 219.43 686 217.1 686C214.77 686 212.1 683.67 211.1 680C210.1 676.33 209.1 666.67 211.1 664Z" fill="#E2A488" opacity="0.4"/><path d="M147.1 662C149.1 657.67 157.1 658 159.1 662C161.1 666 161.1 681.67 159.1 686C157.1 690.33 149.1 692 147.1 688C145.1 684 145.1 666.33 147.1 662Z" fill="#F4DCC2" opacity="0.4"/></g><path d="M194.1 660C193.77 658.97 195.6 657.03 197.1 656C198.6 654.97 200.43 654.25 203.1 653.8C205.77 653.35 210.43 653.1 213.1 653.3C215.77 653.5 217.52 654.13 219.1 655C220.68 655.87 221.93 657.42 222.6 658.5C223.27 659.58 224.02 660.7 223.1 661.5C222.18 662.3 219.77 662.97 217.1 663.3C214.43 663.63 210.1 663.68 207.1 663.5C204.1 663.32 201.27 662.78 199.1 662.2C196.93 661.62 194.43 661.03 194.1 660Z" fill="url(#gel)" filter="url(#bl05)"/><path d="M225.6 661.5C225.85 660.75 227.68 660.08 229.1 660C230.52 659.92 232.43 660 234.1 661C235.77 662 237.68 664 239.1 666C240.52 668 241.85 670.67 242.6 673C243.35 675.33 243.85 678.67 243.6 680C243.35 681.33 242.27 681.67 241.1 681C239.93 680.33 238.1 677.83 236.6 676C235.1 674.17 233.6 671.92 232.1 670C230.6 668.08 228.68 665.92 227.6 664.5C226.52 663.08 225.35 662.25 225.6 661.5Z" fill="url(#gel)" filter="url(#bl05)"/><path d="M200.1 655.6C200.77 655.3 204.6 654.83 207.1 654.8C209.6 654.77 213.1 655.03 215.1 655.4C217.1 655.77 219.77 656.83 219.1 657C218.43 657.17 213.77 656.47 211.1 656.4C208.43 656.33 204.93 656.73 203.1 656.6C201.27 656.47 199.43 655.9 200.1 655.6Z" fill="#B9A6EA" opacity="0.7" filter="url(#bl05)"/><path d="M231.1 662.5C231.27 662.25 233.77 663.58 235.1 665C236.43 666.42 238.1 669 239.1 671C240.1 673 241.27 676.83 241.1 677C240.93 677.17 239.27 673.75 238.1 672C236.93 670.25 235.27 668.08 234.1 666.5C232.93 664.92 230.93 662.75 231.1 662.5Z" fill="#A890E4" opacity="0.7" filter="url(#bl05)"/></g><text x="260.7" y="639.9" font-size="11.4" text-anchor="end" fill="#111">Cutting</text><g clip-path="url(#pc2)"><rect x="268.4" y="628" width="119" height="120" fill="url(#bgA)"/><g filter="url(#bl1)"><path d="M256.4 698C257.9 687.67 260.07 694.33 265.4 694C270.73 693.67 283.73 693.67 288.4 696C293.07 698.33 292.15 703.5 293.4 708C294.65 712.5 295.82 718.33 295.9 723C295.98 727.67 294.82 731.5 293.9 736C292.98 740.5 292.32 746 290.4 750C288.48 754 288.07 759 282.4 760C276.73 761 260.73 766.33 256.4 756C252.07 745.67 254.9 708.33 256.4 698Z" fill="url(#skinF2)"/><path d="M254.4 654C256.07 646.9 260.73 649.82 264.4 649.4C268.07 648.98 272.4 650.57 276.4 651.5C280.4 652.43 284.07 653.83 288.4 655C292.73 656.17 297.4 657.33 302.4 658.5C307.4 659.67 312.4 660.92 318.4 662C324.4 663.08 331.9 664.25 338.4 665C344.9 665.75 351.57 666.17 357.4 666.5C363.23 666.83 367.9 667.08 373.4 667C378.9 666.92 385.9 665.5 390.4 666C394.9 666.5 398.73 666.67 400.4 670C402.07 673.33 402.07 682.5 400.4 686C398.73 689.5 395.73 689.92 390.4 691C385.07 692.08 377.07 692.08 368.4 692.5C359.73 692.92 348.4 693 338.4 693.5C328.4 694 316.73 694.83 308.4 695.5C300.07 696.17 295.73 696.92 288.4 697.5C281.07 698.08 270.07 699.92 264.4 699C258.73 698.08 256.07 699.5 254.4 692C252.73 684.5 252.73 661.1 254.4 654Z" fill="url(#skinH)"/></g><g filter="url(#bl12)"><path d="M268.4 698.5C270.07 697.08 275.07 698.58 278.4 698.5C281.73 698.42 286.23 697.08 288.4 698C290.57 698.92 292.73 702.75 291.4 704C290.07 705.25 284.23 705 280.4 705.5C276.57 706 270.4 708.17 268.4 707C266.4 705.83 266.73 699.92 268.4 698.5Z" fill="#B98A60" opacity="0.55"/><path d="M266.4 718C268.07 718.83 273.23 721.17 276.4 723C279.57 724.83 282.73 727.17 285.4 729C288.07 730.83 291.23 733.17 292.4 734" fill="none" stroke="#94623E" stroke-width="3.2" stroke-linecap="round" opacity="0.7"/><path d="M268.4 654C270.07 647.92 276.4 649.83 278.4 655.5C280.4 661.17 282.07 681.92 280.4 688C278.73 694.08 270.4 697.67 268.4 692C266.4 686.33 266.73 660.08 268.4 654Z" fill="#F4DCC2" opacity="0.4"/><path d="M368.4 670C371.57 666.5 384.23 666 387.4 669C390.57 672 390.57 684.5 387.4 688C384.23 691.5 371.57 693 368.4 690C365.23 687 365.23 673.5 368.4 670Z" fill="#EBB59A" opacity="0.35"/></g><path d="M302.4 658C302.32 657 303.57 655.83 304.9 655C306.23 654.17 307.82 653.37 310.4 653C312.98 652.63 317.57 652.5 320.4 652.8C323.23 653.1 325.48 653.85 327.4 654.8C329.32 655.75 331.07 657.22 331.9 658.5C332.73 659.78 332.98 661.5 332.4 662.5C331.82 663.5 330.4 664.12 328.4 664.5C326.4 664.88 323.4 665.02 320.4 664.8C317.4 664.58 312.9 663.83 310.4 663.2C307.9 662.57 306.73 661.87 305.4 661C304.07 660.13 302.48 659 302.4 658Z" fill="url(#gel)" filter="url(#bl05)"/><path d="M331.9 659.5C332.15 658.28 333.82 657.55 335.4 657C336.98 656.45 339.07 656.1 341.4 656.2C343.73 656.3 347.15 656.88 349.4 657.6C351.65 658.32 353.6 659.35 354.9 660.5C356.2 661.65 357.28 663.42 357.2 664.5C357.12 665.58 356.03 666.48 354.4 667C352.77 667.52 349.9 667.67 347.4 667.6C344.9 667.53 341.65 667.15 339.4 666.6C337.15 666.05 335.15 665.48 333.9 664.3C332.65 663.12 331.65 660.72 331.9 659.5Z" fill="url(#gel)" filter="url(#bl05)"/><path d="M309.4 655C310.07 654.73 313.9 654.37 316.4 654.4C318.9 654.43 322.57 654.83 324.4 655.2C326.23 655.57 328.07 656.47 327.4 656.6C326.73 656.73 322.9 656.1 320.4 656C317.9 655.9 314.23 656.17 312.4 656C310.57 655.83 308.73 655.27 309.4 655Z" fill="#B9A6EA" opacity="0.7" filter="url(#bl05)"/><path d="M338.4 658.4C339.23 658.2 342.4 658.17 344.4 658.4C346.4 658.63 349.07 659.33 350.4 659.8C351.73 660.27 353.23 661.17 352.4 661.2C351.57 661.23 347.57 660.27 345.4 660C343.23 659.73 340.57 659.87 339.4 659.6C338.23 659.33 337.57 658.6 338.4 658.4Z" fill="#B9A6EA" opacity="0.7" filter="url(#bl05)"/><g clip-path="url(#pci)"><rect x="304.6" y="714.2" width="84" height="34" fill="#F1F1F0"/><path d="M302.4 716.5C304.4 710.97 310.4 716.38 314.4 716.8C318.4 717.22 322.07 718.13 326.4 719C330.73 719.87 335.07 721 340.4 722C345.73 723 352.9 724.4 358.4 725C363.9 725.6 368.07 725.67 373.4 725.6C378.73 725.53 387.57 720.53 390.4 724.6C393.23 728.67 405.07 745.77 390.4 750C375.73 754.23 317.07 755.58 302.4 750C287.73 744.42 300.4 722.03 302.4 716.5Z" fill="url(#skinH)" filter="url(#bl1)"/><path d="M325.4 719C325.23 718.1 326.9 717.87 328.4 717.6C329.9 717.33 332.23 717.23 334.4 717.4C336.57 717.57 339.4 718.07 341.4 718.6C343.4 719.13 344.57 720.37 346.4 720.6C348.23 720.83 350.23 719.87 352.4 720C354.57 720.13 357.4 720.7 359.4 721.4C361.4 722.1 363.4 723.27 364.4 724.2C365.4 725.13 365.9 726.17 365.4 727C364.9 727.83 363.23 728.77 361.4 729.2C359.57 729.63 356.57 729.83 354.4 729.6C352.23 729.37 350.4 728 348.4 727.8C346.4 727.6 344.57 728.6 342.4 728.4C340.23 728.2 337.57 727.5 335.4 726.6C333.23 725.7 331.07 724.27 329.4 723C327.73 721.73 325.57 719.9 325.4 719Z" fill="url(#gel)" filter="url(#bl05)"/><path d="M330.4 719C331.07 718.83 334.4 718.77 336.4 719C338.4 719.23 342.07 720.17 342.4 720.4C342.73 720.63 340.07 720.47 338.4 720.4C336.73 720.33 333.73 720.23 332.4 720C331.07 719.77 329.73 719.17 330.4 719Z" fill="#B9A6EA" opacity="0.7" filter="url(#bl05)"/><path d="M350.4 721.6C350.57 721.4 354.73 721.67 356.4 722C358.07 722.33 360.57 723.4 360.4 723.6C360.23 723.8 357.07 723.53 355.4 723.2C353.73 722.87 350.23 721.8 350.4 721.6Z" fill="#B9A6EA" opacity="0.7" filter="url(#bl05)"/></g></g><text x="381.4" y="639.9" font-size="11.3" text-anchor="end" fill="#111">Contacting</text><text x="381.4" y="702.5" font-size="11.1" text-anchor="end" fill="#111">Healing</text><line x1="359.6" y1="706.8" x2="349.2" y2="714.4" stroke="#111" stroke-width="1.9"/><polygon points="345.4,717.2 349.4,710.6 353.4,716" fill="#111"/><g clip-path="url(#pc3)"><rect x="392.1" y="628" width="119" height="120" fill="url(#bgD)"/><g filter="url(#bl1)"><path d="M380.1 692C381.6 680.67 381.27 688.17 389.1 688C396.93 687.83 419.93 688.67 427.1 691C434.27 693.33 430.52 698 432.1 702C433.68 706 435.93 711 436.6 715C437.27 719 437.02 723.08 436.1 726C435.18 728.92 433.27 730.83 431.1 732.5C428.93 734.17 424.85 734.58 423.1 736C421.35 737.42 420.43 738.67 420.6 741C420.77 743.33 424.52 746.83 424.1 750C423.68 753.17 425.43 759 418.1 760C410.77 761 386.43 767.33 380.1 756C373.77 744.67 378.6 703.33 380.1 692Z" fill="url(#skinF2)"/><path d="M460.1 670C463.43 667.17 467.43 668.33 470.1 670C472.77 671.67 474.85 676.67 476.1 680C477.35 683.33 477.43 686.5 477.6 690C477.77 693.5 477.68 697.5 477.1 701C476.52 704.5 475.77 707.75 474.1 711C472.43 714.25 469.77 717.67 467.1 720.5C464.43 723.33 460.77 726.17 458.1 728C455.43 729.83 452.93 731.67 451.1 731.5C449.27 731.33 447.68 729.42 447.1 727C446.52 724.58 446.6 720.33 447.6 717C448.6 713.67 451.43 710.08 453.1 707C454.77 703.92 457.1 701.08 457.6 698.5C458.1 695.92 457.35 693.42 456.1 691.5C454.85 689.58 449.43 690.58 450.1 687C450.77 683.42 456.77 672.83 460.1 670Z" fill="url(#skinV)"/><path d="M378.1 658C379.77 652.5 383.77 653.67 388.1 653C392.43 652.33 398.77 653.42 404.1 654C409.43 654.58 415.1 655.67 420.1 656.5C425.1 657.33 430.1 658.17 434.1 659C438.1 659.83 440.43 660.33 444.1 661.5C447.77 662.67 452.1 664.25 456.1 666C460.1 667.75 465.1 669.67 468.1 672C471.1 674.33 474.1 677.67 474.1 680C474.1 682.33 471.43 684.5 468.1 686C464.77 687.5 459.1 688.33 454.1 689C449.1 689.67 442.6 689.5 438.1 690C433.6 690.5 432.27 691.67 427.1 692C421.93 692.33 413.6 692 407.1 692C400.6 692 392.93 693 388.1 692C383.27 691 379.77 691.67 378.1 686C376.43 680.33 376.43 663.5 378.1 658Z" fill="url(#skinH)"/></g><g filter="url(#bl12)"><path d="M396.1 694.5C398.77 692.83 407.1 694.25 412.1 694C417.1 693.75 423.1 692.17 426.1 693C429.1 693.83 431.1 697.75 430.1 699C429.1 700.25 424.1 700 420.1 700.5C416.1 701 410.1 701.42 406.1 702C402.1 702.58 397.77 705.25 396.1 704C394.43 702.75 393.43 696.17 396.1 694.5Z" fill="#B98A60" opacity="0.55"/><path d="M394.1 714C395.43 713.33 399.43 710.92 402.1 710C404.77 709.08 407.27 708.25 410.1 708.5C412.93 708.75 416.1 710.08 419.1 711.5C422.1 712.92 425.6 715.25 428.1 717C430.6 718.75 433.1 721.17 434.1 722" fill="none" stroke="#94623E" stroke-width="3.4" stroke-linecap="round" opacity="0.75"/><path d="M404.1 702C404.6 702.67 406.43 704.83 407.1 706C407.77 707.17 407.93 708.5 408.1 709" fill="none" stroke="#94623E" stroke-width="2.4" stroke-linecap="round" opacity="0.55"/><path d="M390.1 726C391.77 726.5 396.77 727.67 400.1 729C403.43 730.33 407.1 732.5 410.1 734C413.1 735.5 416.77 737.33 418.1 738" fill="none" stroke="#A87650" stroke-width="2.6" stroke-linecap="round" opacity="0.55"/><path d="M414.1 736C415.27 733.58 419.43 734.5 421.1 735.5C422.77 736.5 423.77 739.58 424.1 742C424.43 744.42 424.77 748.67 423.1 750C421.43 751.33 415.6 752.33 414.1 750C412.6 747.67 412.93 738.42 414.1 736Z" fill="#EBD2C2" opacity="0.75"/><path d="M452.1 688C452.6 687.83 455.93 690 457.1 692C458.27 694 459.6 697.33 459.1 700C458.6 702.67 455.85 705.17 454.1 708C452.35 710.83 449.68 714.17 448.6 717C447.52 719.83 447.35 722.83 447.6 725C447.85 727.17 450.25 729.83 450.1 730C449.95 730.17 447.37 728.33 446.7 726C446.03 723.67 445.37 719.17 446.1 716C446.83 712.83 449.5 709.83 451.1 707C452.7 704.17 455.2 701.33 455.7 699C456.2 696.67 454.7 694.83 454.1 693C453.5 691.17 451.6 688.17 452.1 688Z" fill="#A87650" opacity="0.55"/><path d="M452.1 670C454.43 668.33 460.77 672 464.1 674C467.43 676 471.43 679.67 472.1 682C472.77 684.33 470.43 686.67 468.1 688C465.77 689.33 461.1 690.67 458.1 690C455.1 689.33 451.1 687.33 450.1 684C449.1 680.67 449.77 671.67 452.1 670Z" fill="#E2A488" opacity="0.35"/><path d="M392.1 657C394.1 652 402.1 653.17 404.1 658C406.1 662.83 406.1 681 404.1 686C402.1 691 394.1 692.83 392.1 688C390.1 683.17 390.1 662 392.1 657Z" fill="#F4DCC2" opacity="0.4"/></g><path d="M441.6 661C441.6 660.27 443.52 659.7 445.1 659.4C446.68 659.1 448.6 658.9 451.1 659.2C453.6 659.5 457.1 659.98 460.1 661.2C463.1 662.42 466.6 664.45 469.1 666.5C471.6 668.55 473.52 670.92 475.1 673.5C476.68 676.08 477.93 679.42 478.6 682C479.27 684.58 479.28 687.43 479.1 689C478.92 690.57 478.27 691.57 477.5 691.4C476.73 691.23 475.4 689.9 474.5 688C473.6 686.1 473.33 682.4 472.1 680C470.87 677.6 469.1 675.33 467.1 673.6C465.1 671.87 462.77 670.83 460.1 669.6C457.43 668.37 453.6 667.17 451.1 666.2C448.6 665.23 446.68 664.67 445.1 663.8C443.52 662.93 441.6 661.73 441.6 661Z" fill="url(#gel)" filter="url(#bl05)"/><path d="M448.1 661C448.6 660.83 451.77 660.87 454.1 661.4C456.43 661.93 461.43 663.77 462.1 664.2C462.77 664.63 459.93 664.3 458.1 664C456.27 663.7 452.77 662.9 451.1 662.4C449.43 661.9 447.6 661.17 448.1 661Z" fill="#B9A6EA" opacity="0.6" filter="url(#bl05)"/><path d="M472.1 673C472.67 673.6 475.17 676.83 476.1 679C477.03 681.17 477.77 685.67 477.7 686C477.63 686.33 476.53 682.77 475.7 681C474.87 679.23 473.3 676.73 472.7 675.4C472.1 674.07 471.53 672.4 472.1 673Z" fill="#8A6AD6" opacity="0.6" filter="url(#bl05)"/></g><text x="505.4" y="639.9" font-size="11.3" text-anchor="end" fill="#111">Self-healed</text><g clip-path="url(#pcg)"><rect x="537" y="628" width="130" height="120" fill="url(#gskin)"/><path d="M531 724C532.17 719.25 535.83 725.67 538 727.5C540.17 729.33 542 732.08 544 735C546 737.92 548.33 741.5 550 745C551.67 748.5 557.17 754.17 554 756C550.83 757.83 534.83 761.33 531 756C527.17 750.67 529.83 728.75 531 724Z" fill="#C3DAE6" filter="url(#bl1)"/><ellipse cx="567" cy="638" rx="40" ry="14" fill="#CDB092" opacity="0.6" filter="url(#bl3)"/><ellipse cx="642" cy="728" rx="30" ry="22" fill="#DEC8AE" opacity="0.7" filter="url(#bl3)"/><path d="M559 654C559.81 652.86 560.65 651.76 562 651.4C563.35 651.04 565.75 651.15 568 651.6C570.25 652.05 573.85 653.95 577 654.4C580.15 654.85 585.4 654.72 589 654.6C592.6 654.48 597.7 654.14 601 653.6C604.3 653.06 608 651.15 611 651C614 650.85 618.3 652.3 621 652.6C623.7 652.9 626.6 653.36 629 653C631.4 652.64 634.6 650.8 637 650.2C639.4 649.6 642.9 649.03 645 649C647.1 648.97 649.8 649.1 651 650C652.2 650.9 652.94 653.05 653 655C653.06 656.95 651.85 660.75 651.4 663C650.95 665.25 649.91 668.35 650 670C650.09 671.65 652.3 672.89 652 674C651.7 675.11 649.05 676.35 648 677.4C646.95 678.45 645.39 679.11 645 681C644.61 682.89 645.64 687.15 645.4 690C645.16 692.85 644.06 697.15 643.4 700C642.74 702.85 641.96 706.6 641 709C640.04 711.4 638.8 714.71 637 716C635.2 717.29 631.4 717.3 629 717.6C626.6 717.9 623.4 718.15 621 718C618.6 717.85 615.4 716.69 613 716.6C610.6 716.51 607.4 716.74 605 717.4C602.6 718.06 599.7 720.22 597 721C594.3 721.78 590 722.24 587 722.6C584 722.96 579.7 723.49 577 723.4C574.3 723.31 570.95 722.9 569 722C567.05 721.1 565.2 719.2 564 717.4C562.8 715.6 561.75 712.31 561 710C560.25 707.69 559.39 704.7 559 702C558.61 699.3 558.85 694.4 558.4 692C557.95 689.6 556.66 687.35 556 686C555.34 684.65 553.85 684.05 554 683C554.15 681.95 556.55 680.35 557 679C557.45 677.65 557.24 675.95 557 674C556.76 672.05 555.46 668.25 555.4 666C555.34 663.75 556.06 660.8 556.6 659C557.14 657.2 558.19 655.14 559 654Z" fill="url(#ggel)" filter="url(#bl05)"/><path d="M561 694C562.33 692.67 565.67 696.33 569 698C572.33 699.67 577.67 701.67 581 704C584.33 706.33 588.33 709.33 589 712C589.67 714.67 587.67 718.67 585 720C582.33 721.33 576.33 720.67 573 720C569.67 719.33 567 718.33 565 716C563 713.67 561.67 709.67 561 706C560.33 702.33 559.67 695.33 561 694Z" fill="#4A52E2" opacity="0.75" filter="url(#bl1)"/><path d="M597 666C598.5 667.5 607 668 612 670C617 672 622.83 675.67 627 678C631.17 680.33 634.67 684 637 684C639.33 684 641 680.67 641 678C641 675.33 640.33 670.67 637 668C633.67 665.33 626.67 663.17 621 662C615.33 660.83 607 660.33 603 661C599 661.67 595.5 664.5 597 666Z" fill="#3B3CE0" opacity="0.6" filter="url(#bl1)"/><path d="M577 668C580.67 667.33 590.33 671 597 674C603.67 677 611 682 617 686C623 690 631.33 694.33 633 698C634.67 701.67 631.33 707.33 627 708C622.67 708.67 613.67 705 607 702C600.33 699 592.33 694 587 690C581.67 686 576.67 681.67 575 678C573.33 674.33 573.33 668.67 577 668Z" fill="#1A12B4" opacity="0.55" filter="url(#bl2)"/><path d="M565 655.6C566 655.53 570 657.13 573 657.6C576 658.07 579.67 658.33 583 658.4C586.33 658.47 590 658.23 593 658C596 657.77 597.67 656.9 601 657C604.33 657.1 609.67 658.27 613 658.6C616.33 658.93 619 659.27 621 659C623 658.73 625 656.77 625 657C625 657.23 623.33 659.83 621 660.4C618.67 660.97 614.67 660.7 611 660.4C607.33 660.1 603 658.67 599 658.6C595 658.53 591 659.83 587 660C583 660.17 578.33 659.93 575 659.6C571.67 659.27 568.67 658.67 567 658C565.33 657.33 564 655.67 565 655.6Z" fill="#fff" opacity="0.92" filter="url(#bl05)"/><path d="M634 674C634.5 673 636.5 671.67 638 670.6C639.5 669.53 641.9 667.7 643 667.6C644.1 667.5 644.77 668.93 644.6 670C644.43 671.07 643.1 672.9 642 674C640.9 675.1 639.17 676.17 638 676.6C636.83 677.03 635.67 677.03 635 676.6C634.33 676.17 633.5 675 634 674Z" fill="#fff" filter="url(#bl05)"/><path d="M630 655.6C630.77 655.1 633.83 654.7 635 655C636.17 655.3 637.33 656.67 637 657.4C636.67 658.13 634.1 659.3 633 659.4C631.9 659.5 630.9 658.63 630.4 658C629.9 657.37 629.23 656.1 630 655.6Z" fill="#fff" opacity="0.9" filter="url(#bl05)"/><path d="M637 653.4C637.33 653.03 643 652.47 645 652.4C647 652.33 649.33 652.63 649 653C648.67 653.37 645 654.53 643 654.6C641 654.67 636.67 653.77 637 653.4Z" fill="#DDE0FF" opacity="0.9" filter="url(#bl05)"/></g>
</svg>
</body></html>
